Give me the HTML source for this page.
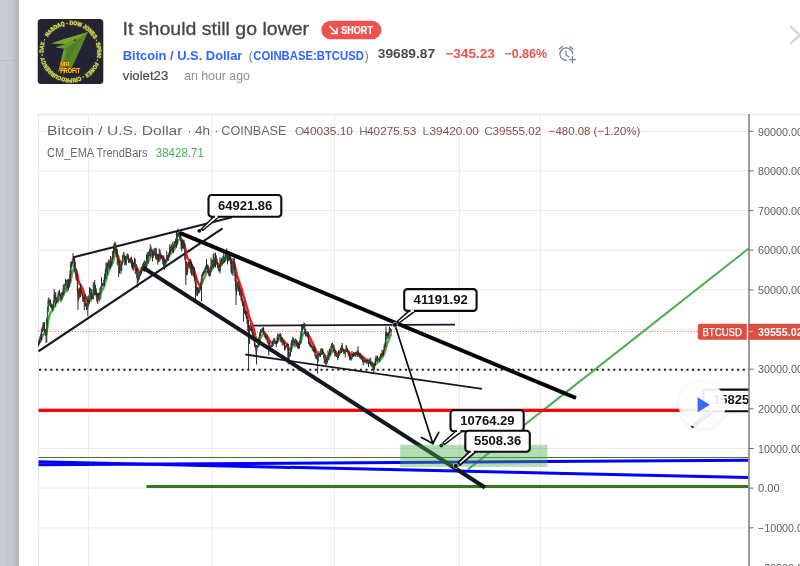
<!DOCTYPE html>
<html>
<head>
<meta charset="utf-8">
<title>It should still go lower</title>
<style>
  html, body { margin: 0; padding: 0; }
  body {
    width: 800px; height: 566px; overflow: hidden; background: #ffffff;
    font-family: "Liberation Sans", sans-serif;
  }
  #stage { position: absolute; left: -6px; top: -6px; width: 812px; height: 578px; overflow: hidden; filter: blur(0.32px); background: #ffffff; }
  svg { position: absolute; left: 6px; top: 6px; overflow: visible; will-change: transform; transform: translateZ(0); opacity: 0.999; }
  svg text { font-family: "Liberation Sans", sans-serif; }
</style>
</head>
<body>
<div id="stage">
<svg width="800" height="566" viewBox="0 0 800 566">
  <defs>
    <linearGradient id="edge" x1="0" y1="0" x2="1" y2="0">
      <stop offset="0" stop-color="#c9cbd0"/>
      <stop offset="0.55" stop-color="#c8cacf"/>
      <stop offset="0.75" stop-color="#c1c3c8"/>
      <stop offset="0.9" stop-color="#b4b6bb"/>
      <stop offset="1" stop-color="#a8aaaf"/>
    </linearGradient>
    <clipPath id="plot"><rect x="38" y="114" width="710.5" height="458"/></clipPath>
    <filter id="glow" x="-10%" y="-10%" width="120%" height="120%"><feGaussianBlur stdDeviation="0.9"/></filter>
    <filter id="soft" x="-30%" y="-30%" width="160%" height="160%"><feGaussianBlur stdDeviation="2.2"/></filter>
  </defs>

  <!-- page -->
  <rect x="-6" y="-6" width="812" height="578" fill="#ffffff"/>

  <!-- dimmed backdrop strip on the left -->
  <rect x="-6" y="-6" width="6.5" height="578" fill="#c9cbd0"/>
  <rect x="0" y="-6" width="18.9" height="578" fill="url(#edge)"/>
  <rect x="-6" y="60.5" width="20" height="512" fill="#c6c9d2" opacity="0.35"/>
  <line x1="-6" y1="60.5" x2="18" y2="60.5" stroke="#b9bdcb" stroke-width="1"/>
  <line x1="7.2" y1="60.5" x2="7.2" y2="572" stroke="#bfc3cd" stroke-width="1.2"/>
  <rect x="14" y="0" width="5" height="566" fill="url(#edge)" opacity="0.0"/>

  <!-- avatar -->
  <g id="avatar">
    <rect x="37.7" y="19.1" width="65.6" height="65" rx="3.5" fill="#222433"/>
    <path id="ringp" d="M47.76 36.89 A27.0 27.0 0 0 1 93.04 66.31 A27.0 27.0 0 0 1 47.76 36.89" fill="none"/>
        <text font-size="5.7" font-weight="bold" fill="#dcdc50" opacity="0.45" filter="url(#glow)"><textPath href="#ringp" textLength="164.6" lengthAdjust="spacingAndGlyphs">NASDAQ - DOW JONES - SP500 - FOREX - CRIPROCURRENCY - DAX -</textPath></text>
    <text font-size="5.7" font-weight="bold" fill="#dede58" stroke="#d4d44c" stroke-width="0.35"><textPath href="#ringp" textLength="164.6" lengthAdjust="spacingAndGlyphs">NASDAQ - DOW JONES - SP500 - FOREX - CRIPROCURRENCY - DAX -</textPath></text>
    <polygon points="88.1,31.9 64.5,38.9 51.2,43.4 65.8,44 55.6,47.2 63.9,48.4 58.2,72 62.6,68 63.5,75 66.5,66 69,70.5 72.2,66.9" fill="#5a8829"/>
    <polygon points="88.1,31.9 64.5,38.9 51.2,43.4 65.8,44 78,38" fill="#76a433"/>
    <polygon points="88.1,31.9 66,44 55.6,47.2 63.9,48.4 76,42.5" fill="#68982e"/>
    <polygon points="80,38.5 70,46 63,66 66.5,66" fill="#4f7c27" opacity="0.8"/>
    <polygon points="63.9,48.4 58.2,72 62.6,68 66,50" fill="#73a234" opacity="0.75"/>
    <circle cx="75" cy="40.2" r="1" fill="#27331f"/>
    <g font-weight="bold" fill="#f3d51f" stroke="#c5220f" stroke-width="0.7" paint-order="stroke">
      <text x="60.2" y="66.4" font-size="5.4" textLength="9.6" lengthAdjust="spacingAndGlyphs">MR</text>
      <text x="60.2" y="72.7" font-size="6.8" textLength="19.8" lengthAdjust="spacingAndGlyphs">PROFIT</text>
    </g>
  </g>

  <!-- header text -->
  <text x="122.6" y="35.3" font-size="17.6" fill="#45474f" stroke="#45474f" stroke-width="0.3" textLength="186.5" lengthAdjust="spacingAndGlyphs">It should still go lower</text>

  <!-- SHORT badge -->
  <rect x="321.3" y="20.7" width="60" height="18.6" rx="9.3" fill="#ef5350"/>
  <g stroke="#ffffff" stroke-width="1.5" fill="none" stroke-linecap="square">
    <path d="M330 26.6 L336.6 33.2"/>
    <path d="M331.8 33.6 L337 33.6 L337 28.4"/>
  </g>
  <text x="341.3" y="34" font-size="10.8" font-weight="bold" fill="#ffffff" stroke="#ffffff" stroke-width="0.2" textLength="31.6" lengthAdjust="spacingAndGlyphs">SHORT</text>

  <!-- symbol row -->
  <g font-size="12.2" font-weight="bold">
    <text x="122.8" y="59.5" fill="#2f66ff" textLength="119.6" lengthAdjust="spacingAndGlyphs">Bitcoin / U.S. Dollar</text>
    <text x="248.6" y="59.5" fill="#7c7f88" font-weight="normal" font-size="13">(</text>
    <text x="253.3" y="59.5" fill="#2f66ff" textLength="110.6" lengthAdjust="spacingAndGlyphs">COINBASE:BTCUSD</text>
    <text x="364.6" y="59.5" fill="#7c7f88" font-weight="normal" font-size="13">)</text>
    <text x="377.8" y="58" fill="#474a54" textLength="57.3" lengthAdjust="spacingAndGlyphs">39689.87</text>
    <text x="445.3" y="58" fill="#ef5350" textLength="49.6" lengthAdjust="spacingAndGlyphs">−345.23</text>
    <text x="504.3" y="58" fill="#ef5350" textLength="43" lengthAdjust="spacingAndGlyphs">−0.86%</text>
  </g>

  <!-- alarm icon -->
  <g stroke="#6f8198" stroke-width="1.25" fill="none" stroke-linecap="round">
    <path d="M566.6 60.4 A6.3 6.3 0 1 1 572.5 53.6"/>
    <path d="M559.2 49 L562.6 46.6"/>
    <path d="M569.8 46.6 L573 49"/>
    <path d="M566 51 L566 55 L568.8 56.8"/>
    <path d="M569.4 59.6 L575.4 59.6 M572.4 56.6 L572.4 62.6"/>
  </g>

  <!-- author row -->
  <text x="122.8" y="80.3" font-size="13" fill="#4a4c55" stroke="#4a4c55" stroke-width="0.2" textLength="45.5" lengthAdjust="spacingAndGlyphs">violet23</text>
  <text x="184" y="80.3" font-size="13" fill="#8e9099" textLength="66" lengthAdjust="spacingAndGlyphs">an hour ago</text>

  <!-- close X (cut off) -->
  <g stroke="#cbd4da" stroke-width="1.9" fill="none" stroke-linecap="round">
    <path d="M791 27 L809 43 M791 43 L809 27"/>
  </g>

  <!-- chart frame -->
  <path d="M38.5 572 L38.5 114.5 L806 114.5" fill="none" stroke="#e6e8f1" stroke-width="1.3"/>

  <g stroke="#ebebed" stroke-width="1"><line x1="38.5" y1="131.3" x2="748.5" y2="131.3"/><line x1="38.5" y1="170.9" x2="748.5" y2="170.9"/><line x1="38.5" y1="210.6" x2="748.5" y2="210.6"/><line x1="38.5" y1="250.2" x2="748.5" y2="250.2"/><line x1="38.5" y1="289.9" x2="748.5" y2="289.9"/><line x1="38.5" y1="329.5" x2="748.5" y2="329.5"/><line x1="38.5" y1="369.2" x2="748.5" y2="369.2"/><line x1="38.5" y1="408.8" x2="748.5" y2="408.8"/><line x1="38.5" y1="448.5" x2="748.5" y2="448.5"/><line x1="38.5" y1="488.1" x2="748.5" y2="488.1"/><line x1="38.5" y1="527.8" x2="748.5" y2="527.8"/><line x1="38.5" y1="567.4" x2="748.5" y2="567.4"/><line x1="88.5" y1="114.5" x2="88.5" y2="572"/><line x1="211.8" y1="114.5" x2="211.8" y2="572"/><line x1="334.6" y1="114.5" x2="334.6" y2="572"/><line x1="459.4" y1="114.5" x2="459.4" y2="572"/><line x1="540.3" y1="114.5" x2="540.3" y2="572"/></g>

  <!-- legend -->
  <g font-size="13.4" fill="#68696d">
    <text x="47" y="134.8" textLength="135.5" lengthAdjust="spacingAndGlyphs">Bitcoin / U.S. Dollar</text>
    <text x="187.3" y="135">·</text>
    <text x="195" y="135" textLength="15" lengthAdjust="spacingAndGlyphs">4h</text>
    <text x="214.2" y="135">·</text>
    <text x="221.3" y="135" textLength="65" lengthAdjust="spacingAndGlyphs">COINBASE</text>
  </g>
  <g font-size="11.8">
    <text x="295" y="135" fill="#70737b">O</text>
    <text x="303.3" y="135" fill="#8e4a4a" textLength="49.7" lengthAdjust="spacingAndGlyphs">40035.10</text>
    <text x="359.3" y="135" fill="#70737b">H</text>
    <text x="367" y="135" fill="#8e4a4a" textLength="49.3" lengthAdjust="spacingAndGlyphs">40275.53</text>
    <text x="422.5" y="135" fill="#70737b">L</text>
    <text x="429.5" y="135" fill="#8e4a4a" textLength="49.3" lengthAdjust="spacingAndGlyphs">39420.00</text>
    <text x="484.2" y="135" fill="#70737b">C</text>
    <text x="492.5" y="135" fill="#8e4a4a" textLength="48.8" lengthAdjust="spacingAndGlyphs">39555.02</text>
    <text x="548.8" y="135" fill="#8e4a4a" textLength="91.5" lengthAdjust="spacingAndGlyphs">−480.08 (−1.20%)</text>
  </g>
  <text x="47" y="156.8" font-size="12" fill="#68696d" textLength="100.5" lengthAdjust="spacingAndGlyphs">CM_EMA TrendBars</text>
  <text x="155.8" y="156.8" font-size="12" fill="#4caf50" textLength="48" lengthAdjust="spacingAndGlyphs">38428.71</text>

  <!-- plot -->
  <g clip-path="url(#plot)">
    <!-- last price dotted line -->
    <line x1="38.5" y1="331.5" x2="698" y2="331.5" stroke="#e8584e" stroke-width="1.15" stroke-dasharray="1 1.8"/>

    <!-- 30000 dotted -->
    <line x1="39" y1="369.8" x2="746" y2="369.8" stroke="#1c1c1c" stroke-width="1.9" stroke-dasharray="2 3.63"/>


    <!-- green projection -->
    <line x1="468" y1="469.4" x2="749" y2="248.2" stroke="#4caf50" stroke-width="2"/>

    <!-- thin dark green -->
    <line x1="38.5" y1="457.5" x2="748.5" y2="457.5" stroke="#3f7d22" stroke-width="1"/>

    <!-- blue lines -->
    <line x1="38.5" y1="464.8" x2="748.5" y2="460.3" stroke="#0000ff" stroke-width="3"/>
    <line x1="38.5" y1="461.8" x2="748.5" y2="477.6" stroke="#0000ff" stroke-width="3"/>

    <!-- red horizontal -->
    <line x1="38.5" y1="410.4" x2="748.5" y2="410.4" stroke="#ff0000" stroke-width="3.2"/>

    <!-- dark green thick -->
    <line x1="146.5" y1="486.6" x2="748.5" y2="486.6" stroke="#38761d" stroke-width="3"/>

    <!-- thin channel lines -->
    <g stroke="#161a26" stroke-width="1.8" fill="none">
      <line x1="73.5" y1="257.3" x2="232" y2="217.3" stroke-width="2.15"/>
      <line x1="38.5" y1="351.3" x2="222.6" y2="228.4" stroke-width="2.15"/>
      <line x1="252.5" y1="325.6" x2="455" y2="324.7"/>
      <line x1="245.3" y1="354.5" x2="482" y2="388.9"/>
    </g>

    <polyline points="38.5,343.2 39.2,342.7 40.0,341.8 40.8,340.5 41.5,338.9 42.2,337.1 43.0,335.0 43.8,333.8 44.5,333.1 45.2,333.0 46.0,333.2 46.8,330.8 47.5,326.3 48.2,321.2 49.0,317.3 49.8,314.6 50.5,312.7 51.2,311.7 52.0,311.4 52.8,310.1 53.5,308.0 54.2,305.7 55.0,304.1 55.8,303.2 56.5,302.8 57.2,302.4 58.0,301.4 58.8,300.0 59.5,298.9 60.2,298.6 61.0,298.9 61.8,298.4 62.5,297.2 63.2,295.6 64.0,294.0 64.8,292.2 65.5,290.5 66.2,288.8 67.0,287.7 67.8,286.9 68.5,286.4 69.2,285.6 70.0,283.4 70.8,280.0 71.5,276.6 72.2,273.5 73.0,270.6 73.8,268.5 74.5,268.0 75.2,268.6 76.0,269.9" fill="none" stroke="#4caf50" stroke-width="2.4" stroke-linejoin="round" stroke-linecap="round"/><polyline points="76.0,269.9 76.8,271.7 77.5,275.3 78.2,280.0 79.0,282.7 79.8,283.9 80.5,284.8 81.2,286.0 82.0,287.5 82.8,289.2 83.5,291.3 84.2,293.6 85.0,295.7 85.8,297.7 86.5,299.5 87.2,300.5 88.0,301.0 88.8,300.7 89.5,299.6" fill="none" stroke="#ff1a1a" stroke-width="2.4" stroke-linejoin="round" stroke-linecap="round"/><polyline points="89.5,299.6 90.2,298.4 91.0,297.8 91.8,297.6 92.5,297.3 93.2,295.5 94.0,293.2 94.8,292.3 95.5,292.3 96.2,293.1 97.0,294.2" fill="none" stroke="#4caf50" stroke-width="2.4" stroke-linejoin="round" stroke-linecap="round"/><polyline points="97.0,294.2 97.8,294.8 98.5,295.0 99.2,294.8 100.0,294.1" fill="none" stroke="#ff1a1a" stroke-width="2.4" stroke-linejoin="round" stroke-linecap="round"/><polyline points="100.0,294.1 100.8,292.9 101.5,291.5 102.2,290.2 103.0,288.9 103.8,287.4 104.5,285.2 105.2,282.6 106.0,280.0 106.8,277.4 107.5,274.8 108.2,272.6 109.0,270.6 109.8,268.9 110.5,267.3 111.2,265.9 112.0,264.5 112.8,262.3 113.5,259.8 114.2,257.1 115.0,255.0 115.8,254.0 116.5,253.8 117.2,254.3 118.0,255.9" fill="none" stroke="#4caf50" stroke-width="2.4" stroke-linejoin="round" stroke-linecap="round"/><polyline points="118.0,255.9 118.8,258.8 119.5,260.8 120.2,262.0 121.0,262.6 121.8,262.3 122.5,261.4" fill="none" stroke="#ff1a1a" stroke-width="2.4" stroke-linejoin="round" stroke-linecap="round"/><polyline points="122.5,261.4 123.2,260.3 124.0,259.9 124.8,260.2 125.5,260.1 126.2,259.4 127.0,258.4 127.8,258.3 128.5,258.9 129.2,259.6" fill="none" stroke="#4caf50" stroke-width="2.4" stroke-linejoin="round" stroke-linecap="round"/><polyline points="129.2,259.6 130.0,260.0 130.8,260.1 131.5,260.6 132.2,261.7 133.0,263.1 133.8,263.9 134.5,264.3 135.2,264.7 136.0,265.7 136.8,267.2 137.5,269.0 138.2,270.7 139.0,272.1 139.8,272.5 140.5,272.1 141.2,271.4" fill="none" stroke="#ff1a1a" stroke-width="2.4" stroke-linejoin="round" stroke-linecap="round"/><polyline points="141.2,271.4 142.0,270.4 142.8,269.4 143.5,268.6 144.2,268.2 145.0,267.9 145.8,267.1 146.5,265.7 147.2,264.1 148.0,262.4 148.8,260.8 149.5,259.2 150.2,257.8 151.0,256.6 151.8,255.5 152.5,254.7 153.2,254.1 154.0,253.8 154.8,253.6 155.5,253.8 156.2,254.4" fill="none" stroke="#4caf50" stroke-width="2.4" stroke-linejoin="round" stroke-linecap="round"/><polyline points="156.2,254.4 157.0,255.3 157.8,256.0 158.5,256.3 159.2,256.1 160.0,256.0 160.8,256.2 161.5,256.5 162.2,257.0 163.0,257.9 163.8,259.0 164.5,259.8 165.2,260.1 166.0,260.1 166.8,259.8 167.5,259.1" fill="none" stroke="#ff1a1a" stroke-width="2.4" stroke-linejoin="round" stroke-linecap="round"/><polyline points="167.5,259.1 168.2,258.0 169.0,256.7 169.8,255.1 170.5,253.7 171.2,252.7 172.0,251.9 172.8,251.3 173.5,250.5 174.2,249.4 175.0,248.0 175.8,246.3 176.5,244.6 177.2,242.8 178.0,241.0 178.8,239.7 179.5,239.1 180.2,239.1 181.0,239.6 181.8,240.3" fill="none" stroke="#4caf50" stroke-width="2.4" stroke-linejoin="round" stroke-linecap="round"/><polyline points="181.8,240.3 182.5,241.3 183.2,242.5 184.0,243.8 184.8,246.0 185.5,249.2 186.2,254.0 187.0,257.0 187.8,258.5 188.5,259.6 189.2,260.8 190.0,262.0 190.8,263.3 191.5,264.6 192.2,266.0 193.0,267.6 193.8,269.4 194.5,271.5 195.2,273.9 196.0,276.5 196.8,279.0 197.5,281.1 198.2,283.0 199.0,284.6 199.8,285.6 200.5,285.6 201.2,284.7 202.0,283.1" fill="none" stroke="#ff1a1a" stroke-width="2.4" stroke-linejoin="round" stroke-linecap="round"/><polyline points="202.0,283.1 202.8,281.3 203.5,279.6 204.2,277.9 205.0,276.2 205.8,274.6 206.5,273.0 207.2,271.9 208.0,271.5 208.8,271.7 209.5,271.8 210.2,271.3 211.0,270.4 211.8,269.4 212.5,268.2 213.2,267.0 214.0,265.7 214.8,264.5 215.5,263.3 216.2,262.6 217.0,262.8 217.8,263.7" fill="none" stroke="#4caf50" stroke-width="2.4" stroke-linejoin="round" stroke-linecap="round"/><polyline points="217.8,263.7 218.5,265.1 219.2,266.0 220.0,266.1 220.8,265.5 221.5,264.7" fill="none" stroke="#ff1a1a" stroke-width="2.4" stroke-linejoin="round" stroke-linecap="round"/><polyline points="221.5,264.7 222.2,263.8 223.0,262.9 223.8,262.0 224.5,261.1 225.2,260.2 226.0,259.4 226.8,258.6 227.5,257.9 228.2,257.6 229.0,257.5 229.8,257.5 230.5,258.6" fill="none" stroke="#4caf50" stroke-width="2.4" stroke-linejoin="round" stroke-linecap="round"/><polyline points="230.5,258.6 231.2,260.8 232.0,262.6 232.8,263.2 233.5,263.1 234.2,263.9 235.0,266.5 235.8,270.2 236.5,273.4 237.2,276.0 238.0,278.4 238.8,280.6 239.5,282.8 240.2,284.9 241.0,287.2 241.8,289.6 242.5,292.1 243.2,294.7 244.0,297.3 244.8,299.8 245.5,302.5 246.2,305.1 247.0,307.8 247.8,310.6 248.5,313.7 249.2,316.9 250.0,319.4 250.8,320.9 251.5,322.4 252.2,324.2 253.0,326.6 253.8,329.4 254.5,332.3 255.2,335.2 256.0,338.2 256.8,340.2 257.5,341.4 258.2,341.8 259.0,341.0 259.8,339.6" fill="none" stroke="#ff1a1a" stroke-width="2.4" stroke-linejoin="round" stroke-linecap="round"/><polyline points="259.8,339.6 260.5,338.2 261.2,336.8 262.0,335.3 262.8,334.1 263.5,333.5 264.2,333.4 265.0,333.7 265.8,334.4" fill="none" stroke="#4caf50" stroke-width="2.4" stroke-linejoin="round" stroke-linecap="round"/><polyline points="265.8,334.4 266.5,335.3 267.2,336.5 268.0,337.7 268.8,339.1 269.5,340.3 270.2,341.4 271.0,342.4 271.8,343.1 272.5,343.2 273.2,343.0 274.0,342.5" fill="none" stroke="#ff1a1a" stroke-width="2.4" stroke-linejoin="round" stroke-linecap="round"/><polyline points="274.0,342.5 274.8,342.4 275.5,342.5 276.2,342.5 277.0,342.1 277.8,341.2 278.5,340.1 279.2,338.9 280.0,338.4 280.8,338.4 281.5,338.7 282.2,339.2" fill="none" stroke="#4caf50" stroke-width="2.4" stroke-linejoin="round" stroke-linecap="round"/><polyline points="282.2,339.2 283.0,339.9 283.8,340.7 284.5,341.7 285.2,342.6 286.0,343.3 286.8,343.7 287.5,344.5 288.2,347.1 289.0,348.9 289.8,349.7 290.5,349.7 291.2,348.8 292.0,347.2" fill="none" stroke="#ff1a1a" stroke-width="2.4" stroke-linejoin="round" stroke-linecap="round"/><polyline points="292.0,347.2 292.8,345.4 293.5,344.7 294.2,344.3 295.0,343.7 295.8,343.1 296.5,343.3 297.2,344.0" fill="none" stroke="#4caf50" stroke-width="2.4" stroke-linejoin="round" stroke-linecap="round"/><polyline points="297.2,344.0 298.0,344.7 298.8,344.7 299.5,344.0 300.2,342.6" fill="none" stroke="#ff1a1a" stroke-width="2.4" stroke-linejoin="round" stroke-linecap="round"/><polyline points="300.2,342.6 301.0,340.4 301.8,337.8 302.5,335.5 303.2,333.7 304.0,332.6 304.8,332.2 305.5,332.3 306.2,332.6 307.0,333.1" fill="none" stroke="#4caf50" stroke-width="2.4" stroke-linejoin="round" stroke-linecap="round"/><polyline points="307.0,333.1 307.8,333.9 308.5,334.9 309.2,336.3 310.0,337.8 310.8,339.3 311.5,340.9 312.2,342.4 313.0,343.9 313.8,345.4 314.5,347.0 315.2,348.7 316.0,350.6 316.8,352.4 317.5,353.5 318.2,354.1 319.0,354.3 319.8,354.2 320.5,353.8" fill="none" stroke="#ff1a1a" stroke-width="2.4" stroke-linejoin="round" stroke-linecap="round"/><polyline points="320.5,353.8 321.2,353.1 322.0,352.6 322.8,352.7 323.5,353.5" fill="none" stroke="#4caf50" stroke-width="2.4" stroke-linejoin="round" stroke-linecap="round"/><polyline points="323.5,353.5 324.2,354.7 325.0,356.2 325.8,357.7 326.5,358.4 327.2,358.5 328.0,358.1 328.8,357.4" fill="none" stroke="#ff1a1a" stroke-width="2.4" stroke-linejoin="round" stroke-linecap="round"/><polyline points="328.8,357.4 329.5,356.4 330.2,355.1 331.0,353.7 331.8,352.0 332.5,350.9 333.2,350.5 334.0,350.5 334.8,350.8 335.5,351.5" fill="none" stroke="#4caf50" stroke-width="2.4" stroke-linejoin="round" stroke-linecap="round"/><polyline points="335.5,351.5 336.2,352.3 337.0,353.2 337.8,353.5 338.5,353.4 339.2,353.0" fill="none" stroke="#ff1a1a" stroke-width="2.4" stroke-linejoin="round" stroke-linecap="round"/><polyline points="339.2,353.0 340.0,352.5 340.8,351.8 341.5,351.1 342.2,350.4 343.0,350.2 343.8,350.4 344.5,350.8" fill="none" stroke="#4caf50" stroke-width="2.4" stroke-linejoin="round" stroke-linecap="round"/><polyline points="344.5,350.8 345.2,351.0 346.0,351.1 346.8,351.0 347.5,351.0 348.2,351.4 349.0,352.1 349.8,353.1 350.5,354.1 351.2,354.7 352.0,354.9 352.8,354.9 353.5,354.7 354.2,354.5" fill="none" stroke="#ff1a1a" stroke-width="2.4" stroke-linejoin="round" stroke-linecap="round"/><polyline points="354.2,354.5 355.0,354.2 355.8,353.8 356.5,353.5 357.2,353.2 358.0,353.4 358.8,353.7" fill="none" stroke="#4caf50" stroke-width="2.4" stroke-linejoin="round" stroke-linecap="round"/><polyline points="358.8,353.7 359.5,354.3 360.2,354.9 361.0,355.5 361.8,356.1 362.5,356.7 363.2,357.4 364.0,358.0 364.8,358.5 365.5,359.1 366.2,359.6 367.0,360.1 367.8,360.5 368.5,360.9 369.2,361.3 370.0,361.7 370.8,362.2 371.5,362.8 372.2,363.6 373.0,364.5 373.8,365.0 374.5,364.9 375.2,364.4 376.0,363.7" fill="none" stroke="#ff1a1a" stroke-width="2.4" stroke-linejoin="round" stroke-linecap="round"/><polyline points="376.0,363.7 376.8,363.1 377.5,362.5 378.2,361.8 379.0,361.2 379.8,360.5 380.5,359.7 381.2,358.8 382.0,357.8 382.8,356.6 383.5,355.3 384.2,353.7 385.0,351.8 385.8,348.7 386.5,345.9 387.2,343.9 388.0,341.9 388.8,339.9 389.5,337.7 390.2,336.0 391.0,334.9" fill="none" stroke="#4caf50" stroke-width="2.4" stroke-linejoin="round" stroke-linecap="round"/><g stroke="#1e2023" stroke-width="1.0" opacity="0.95"><line x1="38.50" y1="341.3" x2="38.50" y2="346.6"/><line x1="39.25" y1="339.1" x2="39.25" y2="344.9"/><line x1="40.00" y1="336.2" x2="40.00" y2="342.7"/><line x1="40.75" y1="334.1" x2="40.75" y2="340.5"/><line x1="41.50" y1="329.0" x2="41.50" y2="340.0"/><line x1="42.25" y1="327.0" x2="42.25" y2="332.1"/><line x1="43.00" y1="322.4" x2="43.00" y2="329.4"/><line x1="43.75" y1="322.1" x2="43.75" y2="331.5"/><line x1="44.50" y1="322.1" x2="44.50" y2="332.2"/><line x1="45.25" y1="328.9" x2="45.25" y2="336.0"/><line x1="46.00" y1="331.6" x2="46.00" y2="343.1"/><line x1="46.75" y1="317.9" x2="46.75" y2="342.3"/><line x1="47.50" y1="306.9" x2="47.50" y2="325.5"/><line x1="48.25" y1="298.1" x2="48.25" y2="312.0"/><line x1="49.00" y1="297.5" x2="49.00" y2="302.8"/><line x1="49.75" y1="299.9" x2="49.75" y2="305.9"/><line x1="50.50" y1="299.5" x2="50.50" y2="307.3"/><line x1="51.25" y1="303.4" x2="51.25" y2="308.0"/><line x1="52.00" y1="304.0" x2="52.00" y2="310.0"/><line x1="52.75" y1="304.8" x2="52.75" y2="310.5"/><line x1="53.50" y1="300.4" x2="53.50" y2="307.7"/><line x1="54.25" y1="289.2" x2="54.25" y2="302.9"/><line x1="55.00" y1="292.4" x2="55.00" y2="300.4"/><line x1="55.75" y1="292.0" x2="55.75" y2="307.3"/><line x1="56.50" y1="297.3" x2="56.50" y2="302.9"/><line x1="57.25" y1="297.5" x2="57.25" y2="301.8"/><line x1="58.00" y1="292.9" x2="58.00" y2="301.5"/><line x1="58.75" y1="290.8" x2="58.75" y2="297.6"/><line x1="59.50" y1="289.8" x2="59.50" y2="296.3"/><line x1="60.25" y1="293.5" x2="60.25" y2="298.5"/><line x1="61.00" y1="293.7" x2="61.00" y2="302.4"/><line x1="61.75" y1="292.0" x2="61.75" y2="300.8"/><line x1="62.50" y1="291.9" x2="62.50" y2="296.5"/><line x1="63.25" y1="285.1" x2="63.25" y2="295.2"/><line x1="64.00" y1="283.9" x2="64.00" y2="293.5"/><line x1="64.75" y1="283.8" x2="64.75" y2="289.6"/><line x1="65.50" y1="278.9" x2="65.50" y2="286.5"/><line x1="66.25" y1="280.0" x2="66.25" y2="285.7"/><line x1="67.00" y1="279.9" x2="67.00" y2="292.3"/><line x1="67.75" y1="278.9" x2="67.75" y2="288.3"/><line x1="68.50" y1="279.2" x2="68.50" y2="290.5"/><line x1="69.25" y1="278.9" x2="69.25" y2="287.4"/><line x1="70.00" y1="270.3" x2="70.00" y2="283.1"/><line x1="70.75" y1="261.5" x2="70.75" y2="276.6"/><line x1="71.50" y1="261.7" x2="71.50" y2="267.1"/><line x1="72.25" y1="258.5" x2="72.25" y2="264.6"/><line x1="73.00" y1="253.2" x2="73.00" y2="267.3"/><line x1="73.75" y1="256.2" x2="73.75" y2="263.1"/><line x1="74.50" y1="257.7" x2="74.50" y2="271.5"/><line x1="75.25" y1="261.7" x2="75.25" y2="273.9"/><line x1="76.00" y1="268.4" x2="76.00" y2="279.7"/><line x1="76.75" y1="274.4" x2="76.75" y2="281.1"/><line x1="77.50" y1="274.6" x2="77.50" y2="293.2"/><line x1="78.25" y1="289.3" x2="78.25" y2="301.5"/><line x1="79.00" y1="288.1" x2="79.00" y2="299.4"/><line x1="79.75" y1="287.3" x2="79.75" y2="297.3"/><line x1="80.50" y1="283.7" x2="80.50" y2="297.1"/><line x1="81.25" y1="288.4" x2="81.25" y2="293.7"/><line x1="82.00" y1="290.4" x2="82.00" y2="295.6"/><line x1="82.75" y1="293.0" x2="82.75" y2="301.8"/><line x1="83.50" y1="296.8" x2="83.50" y2="300.8"/><line x1="84.25" y1="296.1" x2="84.25" y2="310.1"/><line x1="85.00" y1="294.1" x2="85.00" y2="307.2"/><line x1="85.75" y1="301.1" x2="85.75" y2="306.0"/><line x1="86.50" y1="303.0" x2="86.50" y2="310.0"/><line x1="87.25" y1="296.2" x2="87.25" y2="308.9"/><line x1="88.00" y1="301.0" x2="88.00" y2="307.4"/><line x1="88.75" y1="295.4" x2="88.75" y2="305.4"/><line x1="89.50" y1="287.1" x2="89.50" y2="303.5"/><line x1="90.25" y1="287.9" x2="90.25" y2="295.2"/><line x1="91.00" y1="289.3" x2="91.00" y2="301.8"/><line x1="91.75" y1="289.3" x2="91.75" y2="299.4"/><line x1="92.50" y1="293.3" x2="92.50" y2="299.1"/><line x1="93.25" y1="282.5" x2="93.25" y2="299.5"/><line x1="94.00" y1="282.2" x2="94.00" y2="291.9"/><line x1="94.75" y1="280.1" x2="94.75" y2="295.5"/><line x1="95.50" y1="284.8" x2="95.50" y2="294.9"/><line x1="96.25" y1="288.7" x2="96.25" y2="296.6"/><line x1="97.00" y1="292.8" x2="97.00" y2="302.2"/><line x1="97.75" y1="295.1" x2="97.75" y2="304.0"/><line x1="98.50" y1="293.0" x2="98.50" y2="299.6"/><line x1="99.25" y1="292.7" x2="99.25" y2="301.5"/><line x1="100.00" y1="287.8" x2="100.00" y2="294.6"/><line x1="100.75" y1="286.2" x2="100.75" y2="299.5"/><line x1="101.50" y1="277.0" x2="101.50" y2="289.4"/><line x1="102.25" y1="283.2" x2="102.25" y2="286.6"/><line x1="103.00" y1="283.0" x2="103.00" y2="285.8"/><line x1="103.75" y1="279.7" x2="103.75" y2="285.5"/><line x1="104.50" y1="274.1" x2="104.50" y2="285.8"/><line x1="105.25" y1="269.5" x2="105.25" y2="279.1"/><line x1="106.00" y1="262.3" x2="106.00" y2="279.4"/><line x1="106.75" y1="263.3" x2="106.75" y2="271.6"/><line x1="107.50" y1="263.3" x2="107.50" y2="274.9"/><line x1="108.25" y1="260.9" x2="108.25" y2="269.4"/><line x1="109.00" y1="259.0" x2="109.00" y2="267.4"/><line x1="109.75" y1="260.9" x2="109.75" y2="268.8"/><line x1="110.50" y1="260.8" x2="110.50" y2="265.8"/><line x1="111.25" y1="260.4" x2="111.25" y2="266.2"/><line x1="112.00" y1="256.7" x2="112.00" y2="264.4"/><line x1="112.75" y1="251.0" x2="112.75" y2="259.6"/><line x1="113.50" y1="246.8" x2="113.50" y2="257.3"/><line x1="114.25" y1="242.6" x2="114.25" y2="253.8"/><line x1="115.00" y1="241.6" x2="115.00" y2="248.3"/><line x1="115.75" y1="243.3" x2="115.75" y2="253.8"/><line x1="116.50" y1="248.5" x2="116.50" y2="257.0"/><line x1="117.25" y1="248.7" x2="117.25" y2="265.4"/><line x1="118.00" y1="257.5" x2="118.00" y2="264.9"/><line x1="118.75" y1="259.2" x2="118.75" y2="272.7"/><line x1="119.50" y1="261.3" x2="119.50" y2="273.5"/><line x1="120.25" y1="264.0" x2="120.25" y2="271.0"/><line x1="121.00" y1="262.6" x2="121.00" y2="274.1"/><line x1="121.75" y1="261.7" x2="121.75" y2="271.3"/><line x1="122.50" y1="255.4" x2="122.50" y2="264.8"/><line x1="123.25" y1="253.1" x2="123.25" y2="257.9"/><line x1="124.00" y1="251.9" x2="124.00" y2="259.6"/><line x1="124.75" y1="254.7" x2="124.75" y2="265.2"/><line x1="125.50" y1="256.1" x2="125.50" y2="264.7"/><line x1="126.25" y1="256.5" x2="126.25" y2="265.5"/><line x1="127.00" y1="253.9" x2="127.00" y2="258.4"/><line x1="127.75" y1="253.4" x2="127.75" y2="258.0"/><line x1="128.50" y1="254.9" x2="128.50" y2="262.9"/><line x1="129.25" y1="259.3" x2="129.25" y2="262.4"/><line x1="130.00" y1="258.9" x2="130.00" y2="263.5"/><line x1="130.75" y1="257.4" x2="130.75" y2="262.8"/><line x1="131.50" y1="256.8" x2="131.50" y2="266.4"/><line x1="132.25" y1="259.6" x2="132.25" y2="269.5"/><line x1="133.00" y1="263.3" x2="133.00" y2="270.0"/><line x1="133.75" y1="263.1" x2="133.75" y2="270.7"/><line x1="134.50" y1="257.8" x2="134.50" y2="267.5"/><line x1="135.25" y1="258.7" x2="135.25" y2="274.0"/><line x1="136.00" y1="264.0" x2="136.00" y2="274.1"/><line x1="136.75" y1="267.5" x2="136.75" y2="278.1"/><line x1="137.50" y1="269.6" x2="137.50" y2="279.5"/><line x1="138.25" y1="274.6" x2="138.25" y2="282.4"/><line x1="139.00" y1="271.7" x2="139.00" y2="280.0"/><line x1="139.75" y1="273.0" x2="139.75" y2="277.2"/><line x1="140.50" y1="270.3" x2="140.50" y2="275.6"/><line x1="141.25" y1="266.6" x2="141.25" y2="274.4"/><line x1="142.00" y1="266.4" x2="142.00" y2="270.6"/><line x1="142.75" y1="263.6" x2="142.75" y2="270.3"/><line x1="143.50" y1="262.4" x2="143.50" y2="271.0"/><line x1="144.25" y1="260.3" x2="144.25" y2="272.2"/><line x1="145.00" y1="261.4" x2="145.00" y2="269.8"/><line x1="145.75" y1="261.0" x2="145.75" y2="270.4"/><line x1="146.50" y1="254.5" x2="146.50" y2="266.4"/><line x1="147.25" y1="252.5" x2="147.25" y2="262.4"/><line x1="148.00" y1="252.0" x2="148.00" y2="263.5"/><line x1="148.75" y1="251.3" x2="148.75" y2="258.4"/><line x1="149.50" y1="249.2" x2="149.50" y2="255.9"/><line x1="150.25" y1="244.2" x2="150.25" y2="256.3"/><line x1="151.00" y1="246.2" x2="151.00" y2="256.5"/><line x1="151.75" y1="248.5" x2="151.75" y2="251.9"/><line x1="152.50" y1="249.8" x2="152.50" y2="261.4"/><line x1="153.25" y1="251.4" x2="153.25" y2="258.1"/><line x1="154.00" y1="248.3" x2="154.00" y2="255.3"/><line x1="154.75" y1="248.6" x2="154.75" y2="255.7"/><line x1="155.50" y1="248.4" x2="155.50" y2="258.6"/><line x1="156.25" y1="247.7" x2="156.25" y2="259.7"/><line x1="157.00" y1="254.1" x2="157.00" y2="259.7"/><line x1="157.75" y1="255.0" x2="157.75" y2="264.7"/><line x1="158.50" y1="253.7" x2="158.50" y2="262.3"/><line x1="159.25" y1="248.5" x2="159.25" y2="261.7"/><line x1="160.00" y1="249.5" x2="160.00" y2="260.9"/><line x1="160.75" y1="252.4" x2="160.75" y2="258.8"/><line x1="161.50" y1="255.1" x2="161.50" y2="258.9"/><line x1="162.25" y1="255.0" x2="162.25" y2="260.4"/><line x1="163.00" y1="257.6" x2="163.00" y2="264.5"/><line x1="163.75" y1="255.5" x2="163.75" y2="266.8"/><line x1="164.50" y1="260.1" x2="164.50" y2="269.6"/><line x1="165.25" y1="261.2" x2="165.25" y2="265.1"/><line x1="166.00" y1="259.8" x2="166.00" y2="264.3"/><line x1="166.75" y1="251.0" x2="166.75" y2="262.4"/><line x1="167.50" y1="255.0" x2="167.50" y2="260.0"/><line x1="168.25" y1="255.0" x2="168.25" y2="260.9"/><line x1="169.00" y1="252.3" x2="169.00" y2="257.7"/><line x1="169.75" y1="244.3" x2="169.75" y2="254.6"/><line x1="170.50" y1="246.4" x2="170.50" y2="253.7"/><line x1="171.25" y1="244.2" x2="171.25" y2="250.9"/><line x1="172.00" y1="245.7" x2="172.00" y2="250.5"/><line x1="172.75" y1="242.1" x2="172.75" y2="252.4"/><line x1="173.50" y1="244.5" x2="173.50" y2="252.8"/><line x1="174.25" y1="241.0" x2="174.25" y2="248.1"/><line x1="175.00" y1="241.0" x2="175.00" y2="244.6"/><line x1="175.75" y1="238.5" x2="175.75" y2="247.1"/><line x1="176.50" y1="231.8" x2="176.50" y2="247.5"/><line x1="177.25" y1="233.2" x2="177.25" y2="244.9"/><line x1="178.00" y1="228.5" x2="178.00" y2="237.3"/><line x1="178.75" y1="232.3" x2="178.75" y2="236.6"/><line x1="179.50" y1="231.8" x2="179.50" y2="237.6"/><line x1="180.25" y1="233.7" x2="180.25" y2="239.8"/><line x1="181.00" y1="233.8" x2="181.00" y2="249.3"/><line x1="181.75" y1="240.4" x2="181.75" y2="251.4"/><line x1="182.50" y1="239.5" x2="182.50" y2="248.4"/><line x1="183.25" y1="240.2" x2="183.25" y2="249.1"/><line x1="184.00" y1="239.7" x2="184.00" y2="249.0"/><line x1="184.75" y1="243.2" x2="184.75" y2="259.6"/><line x1="185.50" y1="251.6" x2="185.50" y2="264.7"/><line x1="186.25" y1="261.1" x2="186.25" y2="275.7"/><line x1="187.00" y1="266.6" x2="187.00" y2="275.0"/><line x1="187.75" y1="262.1" x2="187.75" y2="271.9"/><line x1="188.50" y1="262.3" x2="188.50" y2="266.4"/><line x1="189.25" y1="261.4" x2="189.25" y2="267.9"/><line x1="190.00" y1="259.6" x2="190.00" y2="269.4"/><line x1="190.75" y1="258.8" x2="190.75" y2="272.9"/><line x1="191.50" y1="261.6" x2="191.50" y2="275.5"/><line x1="192.25" y1="263.8" x2="192.25" y2="273.2"/><line x1="193.00" y1="266.0" x2="193.00" y2="276.2"/><line x1="193.75" y1="268.6" x2="193.75" y2="276.9"/><line x1="194.50" y1="267.3" x2="194.50" y2="281.1"/><line x1="195.25" y1="277.8" x2="195.25" y2="283.7"/><line x1="196.00" y1="276.2" x2="196.00" y2="289.1"/><line x1="196.75" y1="286.9" x2="196.75" y2="295.6"/><line x1="197.50" y1="287.1" x2="197.50" y2="296.1"/><line x1="198.25" y1="288.0" x2="198.25" y2="293.5"/><line x1="199.00" y1="286.3" x2="199.00" y2="293.7"/><line x1="199.75" y1="286.1" x2="199.75" y2="292.2"/><line x1="200.50" y1="282.6" x2="200.50" y2="290.0"/><line x1="201.25" y1="278.9" x2="201.25" y2="287.6"/><line x1="202.00" y1="273.8" x2="202.00" y2="282.6"/><line x1="202.75" y1="272.2" x2="202.75" y2="276.2"/><line x1="203.50" y1="270.8" x2="203.50" y2="275.4"/><line x1="204.25" y1="269.7" x2="204.25" y2="274.1"/><line x1="205.00" y1="267.5" x2="205.00" y2="272.8"/><line x1="205.75" y1="265.6" x2="205.75" y2="272.1"/><line x1="206.50" y1="259.1" x2="206.50" y2="269.4"/><line x1="207.25" y1="264.2" x2="207.25" y2="272.7"/><line x1="208.00" y1="264.8" x2="208.00" y2="271.5"/><line x1="208.75" y1="267.2" x2="208.75" y2="275.8"/><line x1="209.50" y1="270.2" x2="209.50" y2="276.5"/><line x1="210.25" y1="267.0" x2="210.25" y2="276.4"/><line x1="211.00" y1="257.5" x2="211.00" y2="272.5"/><line x1="211.75" y1="260.2" x2="211.75" y2="269.1"/><line x1="212.50" y1="259.7" x2="212.50" y2="266.5"/><line x1="213.25" y1="254.0" x2="213.25" y2="268.6"/><line x1="214.00" y1="252.8" x2="214.00" y2="266.3"/><line x1="214.75" y1="257.5" x2="214.75" y2="266.6"/><line x1="215.50" y1="252.6" x2="215.50" y2="267.6"/><line x1="216.25" y1="255.3" x2="216.25" y2="260.8"/><line x1="217.00" y1="258.3" x2="217.00" y2="265.3"/><line x1="217.75" y1="262.7" x2="217.75" y2="268.3"/><line x1="218.50" y1="266.2" x2="218.50" y2="270.8"/><line x1="219.25" y1="265.9" x2="219.25" y2="271.8"/><line x1="220.00" y1="257.2" x2="220.00" y2="273.5"/><line x1="220.75" y1="260.0" x2="220.75" y2="266.2"/><line x1="221.50" y1="258.2" x2="221.50" y2="264.4"/><line x1="222.25" y1="258.4" x2="222.25" y2="264.5"/><line x1="223.00" y1="255.6" x2="223.00" y2="263.3"/><line x1="223.75" y1="252.8" x2="223.75" y2="263.2"/><line x1="224.50" y1="257.2" x2="224.50" y2="262.3"/><line x1="225.25" y1="252.3" x2="225.25" y2="260.7"/><line x1="226.00" y1="254.4" x2="226.00" y2="258.5"/><line x1="226.75" y1="248.3" x2="226.75" y2="257.3"/><line x1="227.50" y1="251.4" x2="227.50" y2="264.5"/><line x1="228.25" y1="255.2" x2="228.25" y2="261.4"/><line x1="229.00" y1="255.5" x2="229.00" y2="260.2"/><line x1="229.75" y1="255.1" x2="229.75" y2="260.4"/><line x1="230.50" y1="255.1" x2="230.50" y2="264.2"/><line x1="231.25" y1="259.9" x2="231.25" y2="273.4"/><line x1="232.00" y1="270.4" x2="232.00" y2="274.6"/><line x1="232.75" y1="263.6" x2="232.75" y2="272.9"/><line x1="233.50" y1="258.7" x2="233.50" y2="269.7"/><line x1="234.25" y1="257.7" x2="234.25" y2="269.9"/><line x1="235.00" y1="262.5" x2="235.00" y2="281.3"/><line x1="235.75" y1="272.2" x2="235.75" y2="290.3"/><line x1="236.50" y1="283.8" x2="236.50" y2="295.3"/><line x1="237.25" y1="281.8" x2="237.25" y2="286.4"/><line x1="238.00" y1="281.2" x2="238.00" y2="291.4"/><line x1="238.75" y1="282.5" x2="238.75" y2="291.5"/><line x1="239.50" y1="286.0" x2="239.50" y2="295.5"/><line x1="240.25" y1="288.3" x2="240.25" y2="293.2"/><line x1="241.00" y1="289.5" x2="241.00" y2="300.3"/><line x1="241.75" y1="293.8" x2="241.75" y2="302.3"/><line x1="242.50" y1="298.6" x2="242.50" y2="306.1"/><line x1="243.25" y1="301.8" x2="243.25" y2="306.3"/><line x1="244.00" y1="300.5" x2="244.00" y2="313.4"/><line x1="244.75" y1="305.7" x2="244.75" y2="313.8"/><line x1="245.50" y1="310.0" x2="245.50" y2="315.5"/><line x1="246.25" y1="310.7" x2="246.25" y2="318.6"/><line x1="247.00" y1="312.5" x2="247.00" y2="323.8"/><line x1="247.75" y1="316.5" x2="247.75" y2="331.0"/><line x1="248.50" y1="320.0" x2="248.50" y2="330.1"/><line x1="249.25" y1="326.0" x2="249.25" y2="331.7"/><line x1="250.00" y1="328.9" x2="250.00" y2="330.6"/><line x1="250.75" y1="323.2" x2="250.75" y2="330.9"/><line x1="251.50" y1="326.1" x2="251.50" y2="330.9"/><line x1="252.25" y1="328.8" x2="252.25" y2="334.4"/><line x1="253.00" y1="331.4" x2="253.00" y2="337.5"/><line x1="253.75" y1="332.7" x2="253.75" y2="341.0"/><line x1="254.50" y1="338.0" x2="254.50" y2="346.8"/><line x1="255.25" y1="343.3" x2="255.25" y2="347.6"/><line x1="256.00" y1="345.5" x2="256.00" y2="354.7"/><line x1="256.75" y1="345.3" x2="256.75" y2="351.5"/><line x1="257.50" y1="346.1" x2="257.50" y2="347.5"/><line x1="258.25" y1="341.9" x2="258.25" y2="347.3"/><line x1="259.00" y1="336.9" x2="259.00" y2="346.4"/><line x1="259.75" y1="332.2" x2="259.75" y2="342.4"/><line x1="260.50" y1="329.5" x2="260.50" y2="335.9"/><line x1="261.25" y1="330.8" x2="261.25" y2="332.3"/><line x1="262.00" y1="327.8" x2="262.00" y2="332.9"/><line x1="262.75" y1="327.7" x2="262.75" y2="331.2"/><line x1="263.50" y1="327.1" x2="263.50" y2="333.7"/><line x1="264.25" y1="330.8" x2="264.25" y2="337.5"/><line x1="265.00" y1="332.2" x2="265.00" y2="337.2"/><line x1="265.75" y1="334.8" x2="265.75" y2="339.4"/><line x1="266.50" y1="335.6" x2="266.50" y2="339.8"/><line x1="267.25" y1="335.2" x2="267.25" y2="342.3"/><line x1="268.00" y1="339.4" x2="268.00" y2="344.2"/><line x1="268.75" y1="341.1" x2="268.75" y2="345.1"/><line x1="269.50" y1="342.0" x2="269.50" y2="349.3"/><line x1="270.25" y1="345.7" x2="270.25" y2="351.4"/><line x1="271.00" y1="344.3" x2="271.00" y2="347.6"/><line x1="271.75" y1="344.8" x2="271.75" y2="346.7"/><line x1="272.50" y1="340.8" x2="272.50" y2="347.1"/><line x1="273.25" y1="339.1" x2="273.25" y2="346.0"/><line x1="274.00" y1="337.8" x2="274.00" y2="342.5"/><line x1="274.75" y1="338.3" x2="274.75" y2="344.1"/><line x1="275.50" y1="340.7" x2="275.50" y2="344.3"/><line x1="276.25" y1="341.2" x2="276.25" y2="346.8"/><line x1="277.00" y1="336.4" x2="277.00" y2="344.0"/><line x1="277.75" y1="333.3" x2="277.75" y2="342.5"/><line x1="278.50" y1="334.9" x2="278.50" y2="339.5"/><line x1="279.25" y1="333.8" x2="279.25" y2="337.6"/><line x1="280.00" y1="333.6" x2="280.00" y2="337.0"/><line x1="280.75" y1="333.2" x2="280.75" y2="342.4"/><line x1="281.50" y1="337.6" x2="281.50" y2="342.4"/><line x1="282.25" y1="336.9" x2="282.25" y2="345.7"/><line x1="283.00" y1="340.8" x2="283.00" y2="343.7"/><line x1="283.75" y1="340.2" x2="283.75" y2="345.5"/><line x1="284.50" y1="342.7" x2="284.50" y2="350.5"/><line x1="285.25" y1="345.1" x2="285.25" y2="349.6"/><line x1="286.00" y1="345.0" x2="286.00" y2="348.0"/><line x1="286.75" y1="344.5" x2="286.75" y2="347.2"/><line x1="287.50" y1="343.8" x2="287.50" y2="349.2"/><line x1="288.25" y1="343.9" x2="288.25" y2="358.9"/><line x1="289.00" y1="352.4" x2="289.00" y2="360.9"/><line x1="289.75" y1="351.6" x2="289.75" y2="356.9"/><line x1="290.50" y1="348.5" x2="290.50" y2="356.2"/><line x1="291.25" y1="341.3" x2="291.25" y2="352.0"/><line x1="292.00" y1="339.5" x2="292.00" y2="346.2"/><line x1="292.75" y1="337.0" x2="292.75" y2="344.9"/><line x1="293.50" y1="337.9" x2="293.50" y2="342.8"/><line x1="294.25" y1="340.6" x2="294.25" y2="344.3"/><line x1="295.00" y1="338.7" x2="295.00" y2="347.4"/><line x1="295.75" y1="338.7" x2="295.75" y2="341.7"/><line x1="296.50" y1="339.9" x2="296.50" y2="346.4"/><line x1="297.25" y1="340.5" x2="297.25" y2="347.4"/><line x1="298.00" y1="343.3" x2="298.00" y2="349.0"/><line x1="298.75" y1="342.1" x2="298.75" y2="348.9"/><line x1="299.50" y1="340.6" x2="299.50" y2="348.2"/><line x1="300.25" y1="335.8" x2="300.25" y2="344.4"/><line x1="301.00" y1="331.4" x2="301.00" y2="343.2"/><line x1="301.75" y1="324.5" x2="301.75" y2="335.9"/><line x1="302.50" y1="324.2" x2="302.50" y2="331.4"/><line x1="303.25" y1="323.9" x2="303.25" y2="329.2"/><line x1="304.00" y1="322.4" x2="304.00" y2="328.7"/><line x1="304.75" y1="323.0" x2="304.75" y2="334.3"/><line x1="305.50" y1="329.2" x2="305.50" y2="336.3"/><line x1="306.25" y1="332.0" x2="306.25" y2="336.1"/><line x1="307.00" y1="331.4" x2="307.00" y2="337.4"/><line x1="307.75" y1="334.7" x2="307.75" y2="337.6"/><line x1="308.50" y1="332.2" x2="308.50" y2="343.8"/><line x1="309.25" y1="339.4" x2="309.25" y2="345.6"/><line x1="310.00" y1="341.8" x2="310.00" y2="346.3"/><line x1="310.75" y1="343.1" x2="310.75" y2="347.7"/><line x1="311.50" y1="344.5" x2="311.50" y2="347.6"/><line x1="312.25" y1="345.6" x2="312.25" y2="351.2"/><line x1="313.00" y1="346.4" x2="313.00" y2="350.0"/><line x1="313.75" y1="348.6" x2="313.75" y2="352.4"/><line x1="314.50" y1="346.2" x2="314.50" y2="352.7"/><line x1="315.25" y1="349.1" x2="315.25" y2="356.6"/><line x1="316.00" y1="355.0" x2="316.00" y2="359.0"/><line x1="316.75" y1="354.4" x2="316.75" y2="359.5"/><line x1="317.50" y1="355.1" x2="317.50" y2="360.2"/><line x1="318.25" y1="353.7" x2="318.25" y2="361.7"/><line x1="319.00" y1="351.0" x2="319.00" y2="357.3"/><line x1="319.75" y1="353.0" x2="319.75" y2="355.8"/><line x1="320.50" y1="349.4" x2="320.50" y2="356.9"/><line x1="321.25" y1="348.0" x2="321.25" y2="355.2"/><line x1="322.00" y1="348.9" x2="322.00" y2="352.2"/><line x1="322.75" y1="348.4" x2="322.75" y2="354.4"/><line x1="323.50" y1="352.2" x2="323.50" y2="357.9"/><line x1="324.25" y1="353.7" x2="324.25" y2="363.6"/><line x1="325.00" y1="355.5" x2="325.00" y2="363.8"/><line x1="325.75" y1="360.4" x2="325.75" y2="365.6"/><line x1="326.50" y1="358.6" x2="326.50" y2="364.3"/><line x1="327.25" y1="355.0" x2="327.25" y2="363.5"/><line x1="328.00" y1="350.3" x2="328.00" y2="360.7"/><line x1="328.75" y1="352.3" x2="328.75" y2="359.9"/><line x1="329.50" y1="348.6" x2="329.50" y2="355.8"/><line x1="330.25" y1="350.1" x2="330.25" y2="355.1"/><line x1="331.00" y1="345.8" x2="331.00" y2="352.5"/><line x1="331.75" y1="343.2" x2="331.75" y2="347.9"/><line x1="332.50" y1="342.7" x2="332.50" y2="348.0"/><line x1="333.25" y1="344.4" x2="333.25" y2="351.0"/><line x1="334.00" y1="345.2" x2="334.00" y2="352.8"/><line x1="334.75" y1="347.9" x2="334.75" y2="356.4"/><line x1="335.50" y1="350.1" x2="335.50" y2="355.5"/><line x1="336.25" y1="353.7" x2="336.25" y2="357.0"/><line x1="337.00" y1="353.8" x2="337.00" y2="356.8"/><line x1="337.75" y1="353.3" x2="337.75" y2="360.1"/><line x1="338.50" y1="350.3" x2="338.50" y2="358.1"/><line x1="339.25" y1="350.7" x2="339.25" y2="355.7"/><line x1="340.00" y1="349.7" x2="340.00" y2="354.1"/><line x1="340.75" y1="347.6" x2="340.75" y2="352.6"/><line x1="341.50" y1="345.1" x2="341.50" y2="352.9"/><line x1="342.25" y1="342.9" x2="342.25" y2="350.6"/><line x1="343.00" y1="348.0" x2="343.00" y2="351.6"/><line x1="343.75" y1="349.4" x2="343.75" y2="353.9"/><line x1="344.50" y1="350.3" x2="344.50" y2="353.7"/><line x1="345.25" y1="349.3" x2="345.25" y2="357.5"/><line x1="346.00" y1="345.5" x2="346.00" y2="352.0"/><line x1="346.75" y1="345.3" x2="346.75" y2="351.3"/><line x1="347.50" y1="348.3" x2="347.50" y2="352.1"/><line x1="348.25" y1="349.9" x2="348.25" y2="356.4"/><line x1="349.00" y1="351.8" x2="349.00" y2="355.4"/><line x1="349.75" y1="353.2" x2="349.75" y2="360.3"/><line x1="350.50" y1="355.7" x2="350.50" y2="359.8"/><line x1="351.25" y1="357.1" x2="351.25" y2="360.7"/><line x1="352.00" y1="350.9" x2="352.00" y2="358.8"/><line x1="352.75" y1="353.9" x2="352.75" y2="357.0"/><line x1="353.50" y1="352.2" x2="353.50" y2="357.0"/><line x1="354.25" y1="352.8" x2="354.25" y2="356.3"/><line x1="355.00" y1="352.1" x2="355.00" y2="354.8"/><line x1="355.75" y1="352.2" x2="355.75" y2="356.9"/><line x1="356.50" y1="352.0" x2="356.50" y2="354.6"/><line x1="357.25" y1="350.1" x2="357.25" y2="357.1"/><line x1="358.00" y1="346.2" x2="358.00" y2="355.4"/><line x1="358.75" y1="352.8" x2="358.75" y2="356.7"/><line x1="359.50" y1="353.4" x2="359.50" y2="357.6"/><line x1="360.25" y1="352.7" x2="360.25" y2="358.3"/><line x1="361.00" y1="356.3" x2="361.00" y2="359.7"/><line x1="361.75" y1="355.4" x2="361.75" y2="359.8"/><line x1="362.50" y1="356.2" x2="362.50" y2="362.1"/><line x1="363.25" y1="357.5" x2="363.25" y2="365.4"/><line x1="364.00" y1="358.9" x2="364.00" y2="363.6"/><line x1="364.75" y1="359.9" x2="364.75" y2="362.3"/><line x1="365.50" y1="360.0" x2="365.50" y2="362.2"/><line x1="366.25" y1="360.5" x2="366.25" y2="363.4"/><line x1="367.00" y1="359.7" x2="367.00" y2="364.4"/><line x1="367.75" y1="359.9" x2="367.75" y2="363.2"/><line x1="368.50" y1="360.7" x2="368.50" y2="367.2"/><line x1="369.25" y1="358.5" x2="369.25" y2="363.8"/><line x1="370.00" y1="361.3" x2="370.00" y2="364.1"/><line x1="370.75" y1="357.5" x2="370.75" y2="365.6"/><line x1="371.50" y1="363.2" x2="371.50" y2="366.3"/><line x1="372.25" y1="362.2" x2="372.25" y2="367.4"/><line x1="373.00" y1="362.8" x2="373.00" y2="370.4"/><line x1="373.75" y1="366.0" x2="373.75" y2="373.1"/><line x1="374.50" y1="363.4" x2="374.50" y2="369.6"/><line x1="375.25" y1="357.6" x2="375.25" y2="365.8"/><line x1="376.00" y1="355.4" x2="376.00" y2="361.9"/><line x1="376.75" y1="356.6" x2="376.75" y2="361.3"/><line x1="377.50" y1="355.7" x2="377.50" y2="361.7"/><line x1="378.25" y1="357.9" x2="378.25" y2="360.2"/><line x1="379.00" y1="357.9" x2="379.00" y2="360.3"/><line x1="379.75" y1="356.5" x2="379.75" y2="362.3"/><line x1="380.50" y1="353.7" x2="380.50" y2="359.0"/><line x1="381.25" y1="353.2" x2="381.25" y2="356.8"/><line x1="382.00" y1="349.8" x2="382.00" y2="356.8"/><line x1="382.75" y1="350.9" x2="382.75" y2="356.5"/><line x1="383.50" y1="349.7" x2="383.50" y2="355.3"/><line x1="384.25" y1="344.0" x2="384.25" y2="351.0"/><line x1="385.00" y1="341.9" x2="385.00" y2="347.2"/><line x1="385.75" y1="331.3" x2="385.75" y2="347.4"/><line x1="386.50" y1="332.5" x2="386.50" y2="336.2"/><line x1="387.25" y1="332.3" x2="387.25" y2="339.0"/><line x1="388.00" y1="334.3" x2="388.00" y2="336.6"/><line x1="388.75" y1="332.2" x2="388.75" y2="337.7"/><line x1="389.50" y1="326.7" x2="389.50" y2="333.5"/><line x1="390.25" y1="328.1" x2="390.25" y2="330.2"/><line x1="391.00" y1="328.9" x2="391.00" y2="333.9"/><line x1="248.60" y1="330.0" x2="248.60" y2="370.0"/><line x1="256.50" y1="345.0" x2="256.50" y2="364.5"/><line x1="78.00" y1="290.0" x2="78.00" y2="310.0"/><line x1="87.80" y1="303.0" x2="87.80" y2="316.0"/><line x1="185.80" y1="262.0" x2="185.80" y2="285.0"/><line x1="195.50" y1="282.0" x2="195.50" y2="299.0"/><line x1="201.50" y1="285.0" x2="201.50" y2="301.0"/><line x1="236.00" y1="280.0" x2="236.00" y2="305.0"/><line x1="243.60" y1="303.0" x2="243.60" y2="321.5"/><line x1="249.60" y1="325.0" x2="249.60" y2="344.0"/><line x1="317.60" y1="356.0" x2="317.60" y2="373.5"/><line x1="288.30" y1="350.0" x2="288.30" y2="364.5"/><line x1="268.80" y1="343.0" x2="268.80" y2="355.5"/><line x1="137.30" y1="272.0" x2="137.30" y2="287.5"/><line x1="118.60" y1="262.0" x2="118.60" y2="277.0"/><line x1="386.00" y1="326.5" x2="386.00" y2="340.0"/><line x1="110.50" y1="256.0" x2="110.50" y2="268.0"/><line x1="233.00" y1="258.0" x2="233.00" y2="276.0"/></g><g stroke-width="1.35"><line x1="38.50" y1="342.2" x2="38.50" y2="343.4" stroke="#7a1919"/><line x1="39.25" y1="340.0" x2="39.25" y2="342.4" stroke="#402020"/><line x1="40.00" y1="337.6" x2="40.00" y2="340.0" stroke="#7a1919"/><line x1="40.75" y1="336.9" x2="40.75" y2="338.1" stroke="#402020"/><line x1="41.50" y1="330.4" x2="41.50" y2="337.3" stroke="#402020"/><line x1="42.25" y1="328.1" x2="42.25" y2="330.4" stroke="#17562f"/><line x1="43.00" y1="325.2" x2="43.00" y2="328.1" stroke="#7a1919"/><line x1="43.75" y1="325.2" x2="43.75" y2="329.0" stroke="#851f1f"/><line x1="44.50" y1="329.0" x2="44.50" y2="330.3" stroke="#661616"/><line x1="45.25" y1="330.3" x2="45.25" y2="333.2" stroke="#851f1f"/><line x1="46.00" y1="333.2" x2="46.00" y2="335.1" stroke="#1f3f2a"/><line x1="46.75" y1="319.7" x2="46.75" y2="335.1" stroke="#1b6436"/><line x1="47.50" y1="309.7" x2="47.50" y2="319.7" stroke="#206b3b"/><line x1="48.25" y1="300.9" x2="48.25" y2="309.7" stroke="#206b3b"/><line x1="49.00" y1="300.8" x2="49.00" y2="302.0" stroke="#402020"/><line x1="49.75" y1="301.6" x2="49.75" y2="302.8" stroke="#1f3f2a"/><line x1="50.50" y1="302.5" x2="50.50" y2="304.8" stroke="#851f1f"/><line x1="51.25" y1="304.8" x2="51.25" y2="306.0" stroke="#7a1919"/><line x1="52.00" y1="306.0" x2="52.00" y2="308.5" stroke="#1f3f2a"/><line x1="52.75" y1="306.4" x2="52.75" y2="308.5" stroke="#1f3f2a"/><line x1="53.50" y1="301.6" x2="53.50" y2="306.4" stroke="#17562f"/><line x1="54.25" y1="294.3" x2="54.25" y2="301.6" stroke="#17562f"/><line x1="55.00" y1="294.3" x2="55.00" y2="297.6" stroke="#7a1919"/><line x1="55.75" y1="297.6" x2="55.75" y2="299.3" stroke="#402020"/><line x1="56.50" y1="299.3" x2="56.50" y2="300.5" stroke="#661616"/><line x1="57.25" y1="298.9" x2="57.25" y2="300.5" stroke="#1b6436"/><line x1="58.00" y1="295.7" x2="58.00" y2="298.9" stroke="#1b6436"/><line x1="58.75" y1="292.1" x2="58.75" y2="295.7" stroke="#206b3b"/><line x1="59.50" y1="292.1" x2="59.50" y2="295.2" stroke="#402020"/><line x1="60.25" y1="295.2" x2="60.25" y2="297.3" stroke="#851f1f"/><line x1="61.00" y1="297.3" x2="61.00" y2="299.9" stroke="#851f1f"/><line x1="61.75" y1="294.6" x2="61.75" y2="299.9" stroke="#1b6436"/><line x1="62.50" y1="293.4" x2="62.50" y2="294.6" stroke="#661616"/><line x1="63.25" y1="289.5" x2="63.25" y2="293.4" stroke="#17562f"/><line x1="64.00" y1="288.5" x2="64.00" y2="289.7" stroke="#1f3f2a"/><line x1="64.75" y1="284.7" x2="64.75" y2="288.7" stroke="#206b3b"/><line x1="65.50" y1="281.9" x2="65.50" y2="284.7" stroke="#206b3b"/><line x1="66.25" y1="281.9" x2="66.25" y2="284.3" stroke="#661616"/><line x1="67.00" y1="282.3" x2="67.00" y2="284.3" stroke="#1b6436"/><line x1="67.75" y1="282.3" x2="67.75" y2="283.7" stroke="#1b6436"/><line x1="68.50" y1="283.7" x2="68.50" y2="286.4" stroke="#661616"/><line x1="69.25" y1="282.1" x2="69.25" y2="286.4" stroke="#1f3f2a"/><line x1="70.00" y1="274.3" x2="70.00" y2="282.1" stroke="#661616"/><line x1="70.75" y1="264.5" x2="70.75" y2="274.3" stroke="#1f3f2a"/><line x1="71.50" y1="263.4" x2="71.50" y2="264.6" stroke="#7a1919"/><line x1="72.25" y1="262.4" x2="72.25" y2="263.6" stroke="#17562f"/><line x1="73.00" y1="258.9" x2="73.00" y2="262.4" stroke="#206b3b"/><line x1="73.75" y1="258.2" x2="73.75" y2="259.4" stroke="#1f3f2a"/><line x1="74.50" y1="258.7" x2="74.50" y2="267.5" stroke="#402020"/><line x1="75.25" y1="267.5" x2="75.25" y2="272.8" stroke="#1b6436"/><line x1="76.00" y1="272.8" x2="76.00" y2="276.7" stroke="#661616"/><line x1="76.75" y1="276.4" x2="76.75" y2="277.6" stroke="#851f1f"/><line x1="77.50" y1="277.2" x2="77.50" y2="290.8" stroke="#7a1919"/><line x1="78.25" y1="290.8" x2="78.25" y2="297.2" stroke="#7a1919"/><line x1="79.00" y1="294.7" x2="79.00" y2="297.2" stroke="#17562f"/><line x1="79.75" y1="289.5" x2="79.75" y2="294.7" stroke="#17562f"/><line x1="80.50" y1="288.9" x2="80.50" y2="290.1" stroke="#661616"/><line x1="81.25" y1="289.5" x2="81.25" y2="292.6" stroke="#7a1919"/><line x1="82.00" y1="292.6" x2="82.00" y2="294.2" stroke="#7a1919"/><line x1="82.75" y1="294.2" x2="82.75" y2="298.0" stroke="#661616"/><line x1="83.50" y1="297.7" x2="83.50" y2="298.9" stroke="#7a1919"/><line x1="84.25" y1="298.5" x2="84.25" y2="302.1" stroke="#661616"/><line x1="85.00" y1="302.1" x2="85.00" y2="305.1" stroke="#851f1f"/><line x1="85.75" y1="304.4" x2="85.75" y2="305.6" stroke="#1f3f2a"/><line x1="86.50" y1="305.0" x2="86.50" y2="307.5" stroke="#7a1919"/><line x1="87.25" y1="303.0" x2="87.25" y2="307.5" stroke="#1b6436"/><line x1="88.00" y1="301.9" x2="88.00" y2="303.1" stroke="#17562f"/><line x1="88.75" y1="300.7" x2="88.75" y2="301.9" stroke="#1f3f2a"/><line x1="89.50" y1="293.9" x2="89.50" y2="300.7" stroke="#1b6436"/><line x1="90.25" y1="292.5" x2="90.25" y2="293.9" stroke="#206b3b"/><line x1="91.00" y1="292.5" x2="91.00" y2="297.2" stroke="#17562f"/><line x1="91.75" y1="294.8" x2="91.75" y2="297.2" stroke="#1f3f2a"/><line x1="92.50" y1="294.8" x2="92.50" y2="298.0" stroke="#661616"/><line x1="93.25" y1="290.5" x2="93.25" y2="298.0" stroke="#206b3b"/><line x1="94.00" y1="284.8" x2="94.00" y2="290.5" stroke="#17562f"/><line x1="94.75" y1="284.8" x2="94.75" y2="287.5" stroke="#1b6436"/><line x1="95.50" y1="287.5" x2="95.50" y2="293.6" stroke="#402020"/><line x1="96.25" y1="293.4" x2="96.25" y2="294.6" stroke="#402020"/><line x1="97.00" y1="294.4" x2="97.00" y2="300.8" stroke="#661616"/><line x1="97.75" y1="298.8" x2="97.75" y2="300.8" stroke="#206b3b"/><line x1="98.50" y1="297.9" x2="98.50" y2="299.1" stroke="#206b3b"/><line x1="99.25" y1="293.7" x2="99.25" y2="298.1" stroke="#206b3b"/><line x1="100.00" y1="291.5" x2="100.00" y2="293.7" stroke="#206b3b"/><line x1="100.75" y1="287.8" x2="100.75" y2="291.5" stroke="#206b3b"/><line x1="101.50" y1="285.0" x2="101.50" y2="287.8" stroke="#1b6436"/><line x1="102.25" y1="284.0" x2="102.25" y2="285.2" stroke="#17562f"/><line x1="103.00" y1="283.4" x2="103.00" y2="284.6" stroke="#402020"/><line x1="103.75" y1="281.7" x2="103.75" y2="283.8" stroke="#1b6436"/><line x1="104.50" y1="276.7" x2="104.50" y2="281.7" stroke="#1f3f2a"/><line x1="105.25" y1="273.3" x2="105.25" y2="276.7" stroke="#17562f"/><line x1="106.00" y1="267.4" x2="106.00" y2="273.3" stroke="#17562f"/><line x1="106.75" y1="267.4" x2="106.75" y2="268.8" stroke="#7a1919"/><line x1="107.50" y1="266.2" x2="107.50" y2="268.8" stroke="#17562f"/><line x1="108.25" y1="261.8" x2="108.25" y2="266.2" stroke="#1f3f2a"/><line x1="109.00" y1="261.8" x2="109.00" y2="264.2" stroke="#661616"/><line x1="109.75" y1="261.7" x2="109.75" y2="264.2" stroke="#1b6436"/><line x1="110.50" y1="261.2" x2="110.50" y2="262.4" stroke="#7a1919"/><line x1="111.25" y1="261.4" x2="111.25" y2="262.6" stroke="#402020"/><line x1="112.00" y1="258.6" x2="112.00" y2="262.1" stroke="#1b6436"/><line x1="112.75" y1="254.2" x2="112.75" y2="258.6" stroke="#851f1f"/><line x1="113.50" y1="250.4" x2="113.50" y2="254.2" stroke="#402020"/><line x1="114.25" y1="244.1" x2="114.25" y2="250.4" stroke="#1f3f2a"/><line x1="115.00" y1="244.1" x2="115.00" y2="246.0" stroke="#7a1919"/><line x1="115.75" y1="246.0" x2="115.75" y2="252.1" stroke="#1f3f2a"/><line x1="116.50" y1="250.7" x2="116.50" y2="252.1" stroke="#1f3f2a"/><line x1="117.25" y1="250.7" x2="117.25" y2="258.7" stroke="#7a1919"/><line x1="118.00" y1="258.7" x2="118.00" y2="262.4" stroke="#661616"/><line x1="118.75" y1="262.4" x2="118.75" y2="271.1" stroke="#206b3b"/><line x1="119.50" y1="267.5" x2="119.50" y2="271.1" stroke="#7a1919"/><line x1="120.25" y1="267.5" x2="120.25" y2="268.9" stroke="#402020"/><line x1="121.00" y1="264.3" x2="121.00" y2="268.9" stroke="#851f1f"/><line x1="121.75" y1="262.8" x2="121.75" y2="264.3" stroke="#206b3b"/><line x1="122.50" y1="256.4" x2="122.50" y2="262.8" stroke="#1b6436"/><line x1="123.25" y1="255.2" x2="123.25" y2="256.4" stroke="#7a1919"/><line x1="124.00" y1="255.2" x2="124.00" y2="256.4" stroke="#206b3b"/><line x1="124.75" y1="256.4" x2="124.75" y2="260.8" stroke="#402020"/><line x1="125.50" y1="260.6" x2="125.50" y2="261.8" stroke="#661616"/><line x1="126.25" y1="257.5" x2="126.25" y2="261.5" stroke="#17562f"/><line x1="127.00" y1="255.5" x2="127.00" y2="257.5" stroke="#17562f"/><line x1="127.75" y1="255.3" x2="127.75" y2="256.5" stroke="#851f1f"/><line x1="128.50" y1="256.4" x2="128.50" y2="260.5" stroke="#7a1919"/><line x1="129.25" y1="260.2" x2="129.25" y2="261.4" stroke="#402020"/><line x1="130.00" y1="260.8" x2="130.00" y2="262.0" stroke="#402020"/><line x1="130.75" y1="258.7" x2="130.75" y2="261.7" stroke="#1b6436"/><line x1="131.50" y1="258.7" x2="131.50" y2="261.7" stroke="#7a1919"/><line x1="132.25" y1="261.7" x2="132.25" y2="267.4" stroke="#402020"/><line x1="133.00" y1="266.9" x2="133.00" y2="268.1" stroke="#851f1f"/><line x1="133.75" y1="265.6" x2="133.75" y2="267.6" stroke="#17562f"/><line x1="134.50" y1="264.0" x2="134.50" y2="265.6" stroke="#1f3f2a"/><line x1="135.25" y1="264.0" x2="135.25" y2="268.3" stroke="#1b6436"/><line x1="136.00" y1="268.3" x2="136.00" y2="269.5" stroke="#402020"/><line x1="136.75" y1="269.4" x2="136.75" y2="271.1" stroke="#402020"/><line x1="137.50" y1="271.1" x2="137.50" y2="278.4" stroke="#1b6436"/><line x1="138.25" y1="278.2" x2="138.25" y2="279.4" stroke="#402020"/><line x1="139.00" y1="276.1" x2="139.00" y2="279.1" stroke="#7a1919"/><line x1="139.75" y1="274.6" x2="139.75" y2="276.1" stroke="#1f3f2a"/><line x1="140.50" y1="271.4" x2="140.50" y2="274.6" stroke="#17562f"/><line x1="141.25" y1="268.0" x2="141.25" y2="271.4" stroke="#851f1f"/><line x1="142.00" y1="267.8" x2="142.00" y2="269.0" stroke="#661616"/><line x1="142.75" y1="265.0" x2="142.75" y2="268.8" stroke="#206b3b"/><line x1="143.50" y1="263.7" x2="143.50" y2="265.0" stroke="#1b6436"/><line x1="144.25" y1="263.7" x2="144.25" y2="265.3" stroke="#7a1919"/><line x1="145.00" y1="265.3" x2="145.00" y2="267.9" stroke="#7a1919"/><line x1="145.75" y1="265.0" x2="145.75" y2="267.9" stroke="#17562f"/><line x1="146.50" y1="259.4" x2="146.50" y2="265.0" stroke="#206b3b"/><line x1="147.25" y1="255.7" x2="147.25" y2="259.4" stroke="#1f3f2a"/><line x1="148.00" y1="255.0" x2="148.00" y2="256.2" stroke="#402020"/><line x1="148.75" y1="252.1" x2="148.75" y2="255.4" stroke="#1b6436"/><line x1="149.50" y1="251.2" x2="149.50" y2="252.4" stroke="#1b6436"/><line x1="150.25" y1="251.4" x2="150.25" y2="254.6" stroke="#402020"/><line x1="151.00" y1="249.6" x2="151.00" y2="254.6" stroke="#206b3b"/><line x1="151.75" y1="249.6" x2="151.75" y2="250.9" stroke="#1f3f2a"/><line x1="152.50" y1="250.9" x2="152.50" y2="253.4" stroke="#851f1f"/><line x1="153.25" y1="252.6" x2="153.25" y2="253.8" stroke="#402020"/><line x1="154.00" y1="250.9" x2="154.00" y2="253.1" stroke="#1f3f2a"/><line x1="154.75" y1="250.2" x2="154.75" y2="251.4" stroke="#1b6436"/><line x1="155.50" y1="250.7" x2="155.50" y2="253.9" stroke="#17562f"/><line x1="156.25" y1="253.9" x2="156.25" y2="257.9" stroke="#7a1919"/><line x1="157.00" y1="257.4" x2="157.00" y2="258.6" stroke="#7a1919"/><line x1="157.75" y1="258.0" x2="157.75" y2="260.0" stroke="#7a1919"/><line x1="158.50" y1="255.1" x2="158.50" y2="260.0" stroke="#1f3f2a"/><line x1="159.25" y1="255.1" x2="159.25" y2="256.9" stroke="#1f3f2a"/><line x1="160.00" y1="254.2" x2="160.00" y2="256.9" stroke="#17562f"/><line x1="160.75" y1="254.2" x2="160.75" y2="257.1" stroke="#7a1919"/><line x1="161.50" y1="256.8" x2="161.50" y2="258.0" stroke="#7a1919"/><line x1="162.25" y1="257.7" x2="162.25" y2="259.1" stroke="#7a1919"/><line x1="163.00" y1="259.1" x2="163.00" y2="263.5" stroke="#1f3f2a"/><line x1="163.75" y1="263.5" x2="163.75" y2="265.6" stroke="#1f3f2a"/><line x1="164.50" y1="263.6" x2="164.50" y2="265.6" stroke="#1b6436"/><line x1="165.25" y1="262.6" x2="165.25" y2="263.8" stroke="#206b3b"/><line x1="166.00" y1="261.1" x2="166.00" y2="262.8" stroke="#17562f"/><line x1="166.75" y1="257.5" x2="166.75" y2="261.1" stroke="#851f1f"/><line x1="167.50" y1="257.4" x2="167.50" y2="258.6" stroke="#402020"/><line x1="168.25" y1="256.1" x2="168.25" y2="258.6" stroke="#1f3f2a"/><line x1="169.00" y1="253.2" x2="169.00" y2="256.1" stroke="#661616"/><line x1="169.75" y1="249.3" x2="169.75" y2="253.2" stroke="#661616"/><line x1="170.50" y1="247.9" x2="170.50" y2="249.3" stroke="#1b6436"/><line x1="171.25" y1="247.9" x2="171.25" y2="249.1" stroke="#206b3b"/><line x1="172.00" y1="247.0" x2="172.00" y2="249.0" stroke="#17562f"/><line x1="172.75" y1="247.0" x2="172.75" y2="250.4" stroke="#851f1f"/><line x1="173.50" y1="245.4" x2="173.50" y2="250.4" stroke="#1f3f2a"/><line x1="174.25" y1="243.0" x2="174.25" y2="245.4" stroke="#1b6436"/><line x1="175.00" y1="242.4" x2="175.00" y2="243.6" stroke="#851f1f"/><line x1="175.75" y1="239.5" x2="175.75" y2="243.0" stroke="#1f3f2a"/><line x1="176.50" y1="237.3" x2="176.50" y2="239.5" stroke="#17562f"/><line x1="177.25" y1="235.2" x2="177.25" y2="237.3" stroke="#17562f"/><line x1="178.00" y1="233.4" x2="178.00" y2="235.2" stroke="#1f3f2a"/><line x1="178.75" y1="233.4" x2="178.75" y2="235.7" stroke="#1f3f2a"/><line x1="179.50" y1="234.7" x2="179.50" y2="235.9" stroke="#17562f"/><line x1="180.25" y1="234.9" x2="180.25" y2="238.5" stroke="#1f3f2a"/><line x1="181.00" y1="238.5" x2="181.00" y2="241.3" stroke="#661616"/><line x1="181.75" y1="241.3" x2="181.75" y2="244.8" stroke="#402020"/><line x1="182.50" y1="243.3" x2="182.50" y2="244.8" stroke="#17562f"/><line x1="183.25" y1="243.3" x2="183.25" y2="247.8" stroke="#661616"/><line x1="184.00" y1="246.8" x2="184.00" y2="248.0" stroke="#17562f"/><line x1="184.75" y1="247.1" x2="184.75" y2="253.3" stroke="#1b6436"/><line x1="185.50" y1="253.3" x2="185.50" y2="262.8" stroke="#851f1f"/><line x1="186.25" y1="262.8" x2="186.25" y2="274.2" stroke="#851f1f"/><line x1="187.00" y1="268.8" x2="187.00" y2="274.2" stroke="#1f3f2a"/><line x1="187.75" y1="264.3" x2="187.75" y2="268.8" stroke="#17562f"/><line x1="188.50" y1="264.3" x2="188.50" y2="265.5" stroke="#851f1f"/><line x1="189.25" y1="263.6" x2="189.25" y2="265.4" stroke="#661616"/><line x1="190.00" y1="263.6" x2="190.00" y2="265.0" stroke="#7a1919"/><line x1="190.75" y1="265.0" x2="190.75" y2="269.6" stroke="#7a1919"/><line x1="191.50" y1="269.6" x2="191.50" y2="271.6" stroke="#661616"/><line x1="192.25" y1="269.8" x2="192.25" y2="271.6" stroke="#17562f"/><line x1="193.00" y1="269.8" x2="193.00" y2="274.8" stroke="#851f1f"/><line x1="193.75" y1="274.5" x2="193.75" y2="275.7" stroke="#661616"/><line x1="194.50" y1="275.3" x2="194.50" y2="278.7" stroke="#661616"/><line x1="195.25" y1="278.7" x2="195.25" y2="282.4" stroke="#206b3b"/><line x1="196.00" y1="282.4" x2="196.00" y2="287.8" stroke="#7a1919"/><line x1="196.75" y1="287.8" x2="196.75" y2="290.2" stroke="#402020"/><line x1="197.50" y1="289.5" x2="197.50" y2="290.7" stroke="#402020"/><line x1="198.25" y1="290.0" x2="198.25" y2="291.5" stroke="#661616"/><line x1="199.00" y1="290.5" x2="199.00" y2="291.7" stroke="#7a1919"/><line x1="199.75" y1="288.6" x2="199.75" y2="290.6" stroke="#206b3b"/><line x1="200.50" y1="286.6" x2="200.50" y2="288.6" stroke="#1f3f2a"/><line x1="201.25" y1="280.8" x2="201.25" y2="286.6" stroke="#1b6436"/><line x1="202.00" y1="274.6" x2="202.00" y2="280.8" stroke="#851f1f"/><line x1="202.75" y1="273.8" x2="202.75" y2="275.0" stroke="#851f1f"/><line x1="203.50" y1="273.1" x2="203.50" y2="274.3" stroke="#17562f"/><line x1="204.25" y1="271.9" x2="204.25" y2="273.1" stroke="#851f1f"/><line x1="205.00" y1="269.1" x2="205.00" y2="272.0" stroke="#206b3b"/><line x1="205.75" y1="268.2" x2="205.75" y2="269.4" stroke="#1f3f2a"/><line x1="206.50" y1="265.4" x2="206.50" y2="268.5" stroke="#1f3f2a"/><line x1="207.25" y1="265.2" x2="207.25" y2="266.4" stroke="#17562f"/><line x1="208.00" y1="266.1" x2="208.00" y2="268.4" stroke="#402020"/><line x1="208.75" y1="268.4" x2="208.75" y2="274.1" stroke="#7a1919"/><line x1="209.50" y1="273.5" x2="209.50" y2="274.7" stroke="#402020"/><line x1="210.25" y1="271.0" x2="210.25" y2="274.1" stroke="#1f3f2a"/><line x1="211.00" y1="265.5" x2="211.00" y2="271.0" stroke="#1b6436"/><line x1="211.75" y1="264.3" x2="211.75" y2="265.5" stroke="#1b6436"/><line x1="212.50" y1="262.5" x2="212.50" y2="264.3" stroke="#206b3b"/><line x1="213.25" y1="261.1" x2="213.25" y2="262.5" stroke="#7a1919"/><line x1="214.00" y1="259.2" x2="214.00" y2="261.1" stroke="#17562f"/><line x1="214.75" y1="259.2" x2="214.75" y2="260.7" stroke="#661616"/><line x1="215.50" y1="257.9" x2="215.50" y2="260.7" stroke="#1f3f2a"/><line x1="216.25" y1="257.9" x2="216.25" y2="260.0" stroke="#17562f"/><line x1="217.00" y1="260.0" x2="217.00" y2="263.9" stroke="#7a1919"/><line x1="217.75" y1="263.9" x2="217.75" y2="267.4" stroke="#17562f"/><line x1="218.50" y1="267.4" x2="218.50" y2="269.9" stroke="#1b6436"/><line x1="219.25" y1="269.8" x2="219.25" y2="271.0" stroke="#851f1f"/><line x1="220.00" y1="265.2" x2="220.00" y2="270.9" stroke="#1f3f2a"/><line x1="220.75" y1="261.3" x2="220.75" y2="265.2" stroke="#7a1919"/><line x1="221.50" y1="261.3" x2="221.50" y2="262.8" stroke="#1b6436"/><line x1="222.25" y1="261.7" x2="222.25" y2="262.9" stroke="#206b3b"/><line x1="223.00" y1="257.1" x2="223.00" y2="261.7" stroke="#206b3b"/><line x1="223.75" y1="257.1" x2="223.75" y2="260.2" stroke="#851f1f"/><line x1="224.50" y1="258.0" x2="224.50" y2="260.2" stroke="#1b6436"/><line x1="225.25" y1="256.0" x2="225.25" y2="258.0" stroke="#1b6436"/><line x1="226.00" y1="255.6" x2="226.00" y2="256.8" stroke="#851f1f"/><line x1="226.75" y1="255.8" x2="226.75" y2="257.0" stroke="#402020"/><line x1="227.50" y1="255.8" x2="227.50" y2="257.0" stroke="#206b3b"/><line x1="228.25" y1="255.9" x2="228.25" y2="257.1" stroke="#661616"/><line x1="229.00" y1="256.2" x2="229.00" y2="257.4" stroke="#1b6436"/><line x1="229.75" y1="257.0" x2="229.75" y2="258.3" stroke="#7a1919"/><line x1="230.50" y1="258.3" x2="230.50" y2="262.3" stroke="#402020"/><line x1="231.25" y1="262.3" x2="231.25" y2="271.5" stroke="#661616"/><line x1="232.00" y1="271.0" x2="232.00" y2="272.2" stroke="#7a1919"/><line x1="232.75" y1="265.3" x2="232.75" y2="271.7" stroke="#206b3b"/><line x1="233.50" y1="260.9" x2="233.50" y2="265.3" stroke="#17562f"/><line x1="234.25" y1="260.9" x2="234.25" y2="266.2" stroke="#851f1f"/><line x1="235.00" y1="266.2" x2="235.00" y2="276.1" stroke="#17562f"/><line x1="235.75" y1="276.1" x2="235.75" y2="287.3" stroke="#661616"/><line x1="236.50" y1="285.1" x2="236.50" y2="287.3" stroke="#1b6436"/><line x1="237.25" y1="284.5" x2="237.25" y2="285.7" stroke="#661616"/><line x1="238.00" y1="285.1" x2="238.00" y2="289.2" stroke="#7a1919"/><line x1="238.75" y1="288.2" x2="238.75" y2="289.4" stroke="#402020"/><line x1="239.50" y1="288.5" x2="239.50" y2="292.3" stroke="#661616"/><line x1="240.25" y1="291.7" x2="240.25" y2="292.9" stroke="#402020"/><line x1="241.00" y1="292.4" x2="241.00" y2="297.1" stroke="#661616"/><line x1="241.75" y1="297.1" x2="241.75" y2="300.0" stroke="#7a1919"/><line x1="242.50" y1="300.0" x2="242.50" y2="304.1" stroke="#661616"/><line x1="243.25" y1="303.4" x2="243.25" y2="304.6" stroke="#1f3f2a"/><line x1="244.00" y1="303.9" x2="244.00" y2="307.7" stroke="#851f1f"/><line x1="244.75" y1="307.7" x2="244.75" y2="311.4" stroke="#7a1919"/><line x1="245.50" y1="311.0" x2="245.50" y2="312.2" stroke="#661616"/><line x1="246.25" y1="311.7" x2="246.25" y2="315.8" stroke="#402020"/><line x1="247.00" y1="315.8" x2="247.00" y2="318.8" stroke="#402020"/><line x1="247.75" y1="318.8" x2="247.75" y2="323.0" stroke="#7a1919"/><line x1="248.50" y1="323.0" x2="248.50" y2="326.9" stroke="#402020"/><line x1="249.25" y1="326.9" x2="249.25" y2="329.6" stroke="#851f1f"/><line x1="250.00" y1="329.0" x2="250.00" y2="330.2" stroke="#17562f"/><line x1="250.75" y1="328.0" x2="250.75" y2="329.6" stroke="#7a1919"/><line x1="251.50" y1="328.0" x2="251.50" y2="329.5" stroke="#661616"/><line x1="252.25" y1="329.5" x2="252.25" y2="332.4" stroke="#402020"/><line x1="253.00" y1="332.4" x2="253.00" y2="335.9" stroke="#1f3f2a"/><line x1="253.75" y1="335.9" x2="253.75" y2="340.1" stroke="#851f1f"/><line x1="254.50" y1="340.1" x2="254.50" y2="345.3" stroke="#851f1f"/><line x1="255.25" y1="345.3" x2="255.25" y2="346.6" stroke="#7a1919"/><line x1="256.00" y1="346.6" x2="256.00" y2="350.4" stroke="#7a1919"/><line x1="256.75" y1="347.0" x2="256.75" y2="350.4" stroke="#206b3b"/><line x1="257.50" y1="346.2" x2="257.50" y2="347.4" stroke="#206b3b"/><line x1="258.25" y1="342.6" x2="258.25" y2="346.6" stroke="#1f3f2a"/><line x1="259.00" y1="337.6" x2="259.00" y2="342.6" stroke="#17562f"/><line x1="259.75" y1="334.3" x2="259.75" y2="337.6" stroke="#851f1f"/><line x1="260.50" y1="331.7" x2="260.50" y2="334.3" stroke="#1f3f2a"/><line x1="261.25" y1="331.0" x2="261.25" y2="332.2" stroke="#17562f"/><line x1="262.00" y1="329.4" x2="262.00" y2="331.5" stroke="#1f3f2a"/><line x1="262.75" y1="328.3" x2="262.75" y2="329.5" stroke="#17562f"/><line x1="263.50" y1="328.5" x2="263.50" y2="332.0" stroke="#402020"/><line x1="264.25" y1="331.8" x2="264.25" y2="333.0" stroke="#206b3b"/><line x1="265.00" y1="332.7" x2="265.00" y2="335.4" stroke="#851f1f"/><line x1="265.75" y1="335.4" x2="265.75" y2="337.9" stroke="#661616"/><line x1="266.50" y1="337.3" x2="266.50" y2="338.5" stroke="#206b3b"/><line x1="267.25" y1="337.8" x2="267.25" y2="340.6" stroke="#851f1f"/><line x1="268.00" y1="340.6" x2="268.00" y2="342.6" stroke="#851f1f"/><line x1="268.75" y1="342.6" x2="268.75" y2="344.0" stroke="#851f1f"/><line x1="269.50" y1="344.0" x2="269.50" y2="346.6" stroke="#851f1f"/><line x1="270.25" y1="345.9" x2="270.25" y2="347.1" stroke="#7a1919"/><line x1="271.00" y1="345.5" x2="271.00" y2="346.7" stroke="#1f3f2a"/><line x1="271.75" y1="345.0" x2="271.75" y2="346.2" stroke="#1b6436"/><line x1="272.50" y1="344.4" x2="272.50" y2="345.6" stroke="#1b6436"/><line x1="273.25" y1="341.1" x2="273.25" y2="344.7" stroke="#1b6436"/><line x1="274.00" y1="340.6" x2="274.00" y2="341.8" stroke="#1b6436"/><line x1="274.75" y1="340.7" x2="274.75" y2="341.9" stroke="#851f1f"/><line x1="275.50" y1="341.4" x2="275.50" y2="343.8" stroke="#1b6436"/><line x1="276.25" y1="342.7" x2="276.25" y2="343.9" stroke="#1f3f2a"/><line x1="277.00" y1="340.5" x2="277.00" y2="342.7" stroke="#402020"/><line x1="277.75" y1="338.1" x2="277.75" y2="340.5" stroke="#402020"/><line x1="278.50" y1="335.6" x2="278.50" y2="338.1" stroke="#1b6436"/><line x1="279.25" y1="334.2" x2="279.25" y2="335.6" stroke="#1b6436"/><line x1="280.00" y1="334.2" x2="280.00" y2="335.6" stroke="#661616"/><line x1="280.75" y1="335.6" x2="280.75" y2="338.2" stroke="#661616"/><line x1="281.50" y1="338.2" x2="281.50" y2="340.5" stroke="#402020"/><line x1="282.25" y1="340.5" x2="282.25" y2="341.7" stroke="#1b6436"/><line x1="283.00" y1="340.9" x2="283.00" y2="342.1" stroke="#1b6436"/><line x1="283.75" y1="341.3" x2="283.75" y2="343.7" stroke="#402020"/><line x1="284.50" y1="343.7" x2="284.50" y2="345.8" stroke="#402020"/><line x1="285.25" y1="345.7" x2="285.25" y2="346.9" stroke="#661616"/><line x1="286.00" y1="345.9" x2="286.00" y2="347.1" stroke="#206b3b"/><line x1="286.75" y1="345.6" x2="286.75" y2="346.8" stroke="#851f1f"/><line x1="287.50" y1="346.1" x2="287.50" y2="348.7" stroke="#206b3b"/><line x1="288.25" y1="348.7" x2="288.25" y2="358.1" stroke="#402020"/><line x1="289.00" y1="356.2" x2="289.00" y2="358.1" stroke="#1b6436"/><line x1="289.75" y1="352.6" x2="289.75" y2="356.2" stroke="#1b6436"/><line x1="290.50" y1="349.2" x2="290.50" y2="352.6" stroke="#17562f"/><line x1="291.25" y1="344.5" x2="291.25" y2="349.2" stroke="#1f3f2a"/><line x1="292.00" y1="340.1" x2="292.00" y2="344.5" stroke="#17562f"/><line x1="292.75" y1="339.1" x2="292.75" y2="340.3" stroke="#1b6436"/><line x1="293.50" y1="339.3" x2="293.50" y2="342.0" stroke="#7a1919"/><line x1="294.25" y1="342.0" x2="294.25" y2="343.7" stroke="#7a1919"/><line x1="295.00" y1="340.4" x2="295.00" y2="343.7" stroke="#206b3b"/><line x1="295.75" y1="340.1" x2="295.75" y2="341.3" stroke="#661616"/><line x1="296.50" y1="340.9" x2="296.50" y2="344.7" stroke="#661616"/><line x1="297.25" y1="344.7" x2="297.25" y2="346.0" stroke="#851f1f"/><line x1="298.00" y1="346.0" x2="298.00" y2="348.3" stroke="#851f1f"/><line x1="298.75" y1="344.0" x2="298.75" y2="348.3" stroke="#1f3f2a"/><line x1="299.50" y1="341.5" x2="299.50" y2="344.0" stroke="#1b6436"/><line x1="300.25" y1="338.4" x2="300.25" y2="341.5" stroke="#206b3b"/><line x1="301.00" y1="332.5" x2="301.00" y2="338.4" stroke="#1b6436"/><line x1="301.75" y1="326.2" x2="301.75" y2="332.5" stroke="#1b6436"/><line x1="302.50" y1="326.1" x2="302.50" y2="327.3" stroke="#7a1919"/><line x1="303.25" y1="325.6" x2="303.25" y2="327.3" stroke="#1f3f2a"/><line x1="304.00" y1="325.6" x2="304.00" y2="327.6" stroke="#661616"/><line x1="304.75" y1="327.6" x2="304.75" y2="329.8" stroke="#1b6436"/><line x1="305.50" y1="329.8" x2="305.50" y2="333.6" stroke="#402020"/><line x1="306.25" y1="332.5" x2="306.25" y2="333.7" stroke="#206b3b"/><line x1="307.00" y1="332.7" x2="307.00" y2="335.4" stroke="#851f1f"/><line x1="307.75" y1="335.2" x2="307.75" y2="336.4" stroke="#17562f"/><line x1="308.50" y1="336.1" x2="308.50" y2="340.1" stroke="#661616"/><line x1="309.25" y1="340.1" x2="309.25" y2="342.5" stroke="#206b3b"/><line x1="310.00" y1="342.5" x2="310.00" y2="345.0" stroke="#1f3f2a"/><line x1="310.75" y1="345.0" x2="310.75" y2="346.4" stroke="#661616"/><line x1="311.50" y1="346.1" x2="311.50" y2="347.3" stroke="#7a1919"/><line x1="312.25" y1="346.7" x2="312.25" y2="347.9" stroke="#661616"/><line x1="313.00" y1="347.6" x2="313.00" y2="349.3" stroke="#851f1f"/><line x1="313.75" y1="349.3" x2="313.75" y2="351.0" stroke="#402020"/><line x1="314.50" y1="350.9" x2="314.50" y2="352.1" stroke="#661616"/><line x1="315.25" y1="352.1" x2="315.25" y2="355.9" stroke="#851f1f"/><line x1="316.00" y1="355.9" x2="316.00" y2="358.1" stroke="#402020"/><line x1="316.75" y1="357.9" x2="316.75" y2="359.1" stroke="#851f1f"/><line x1="317.50" y1="357.1" x2="317.50" y2="358.9" stroke="#17562f"/><line x1="318.25" y1="356.1" x2="318.25" y2="357.3" stroke="#206b3b"/><line x1="319.00" y1="354.9" x2="319.00" y2="356.4" stroke="#17562f"/><line x1="319.75" y1="354.1" x2="319.75" y2="355.3" stroke="#7a1919"/><line x1="320.50" y1="353.0" x2="320.50" y2="354.5" stroke="#17562f"/><line x1="321.25" y1="349.8" x2="321.25" y2="353.0" stroke="#206b3b"/><line x1="322.00" y1="349.0" x2="322.00" y2="350.2" stroke="#1b6436"/><line x1="322.75" y1="349.5" x2="322.75" y2="353.4" stroke="#402020"/><line x1="323.50" y1="353.4" x2="323.50" y2="355.3" stroke="#206b3b"/><line x1="324.25" y1="355.3" x2="324.25" y2="358.8" stroke="#206b3b"/><line x1="325.00" y1="358.8" x2="325.00" y2="362.7" stroke="#7a1919"/><line x1="325.75" y1="362.1" x2="325.75" y2="363.3" stroke="#206b3b"/><line x1="326.50" y1="361.7" x2="326.50" y2="362.9" stroke="#206b3b"/><line x1="327.25" y1="359.8" x2="327.25" y2="362.0" stroke="#17562f"/><line x1="328.00" y1="355.1" x2="328.00" y2="359.8" stroke="#1b6436"/><line x1="328.75" y1="353.9" x2="328.75" y2="355.1" stroke="#661616"/><line x1="329.50" y1="351.7" x2="329.50" y2="353.9" stroke="#17562f"/><line x1="330.25" y1="350.6" x2="330.25" y2="351.8" stroke="#1b6436"/><line x1="331.00" y1="347.2" x2="331.00" y2="350.8" stroke="#1b6436"/><line x1="331.75" y1="344.4" x2="331.75" y2="347.2" stroke="#17562f"/><line x1="332.50" y1="344.4" x2="332.50" y2="345.6" stroke="#1b6436"/><line x1="333.25" y1="345.6" x2="333.25" y2="349.7" stroke="#7a1919"/><line x1="334.00" y1="349.4" x2="334.00" y2="350.6" stroke="#661616"/><line x1="334.75" y1="350.2" x2="334.75" y2="353.3" stroke="#851f1f"/><line x1="335.50" y1="353.3" x2="335.50" y2="354.9" stroke="#851f1f"/><line x1="336.25" y1="354.4" x2="336.25" y2="355.6" stroke="#661616"/><line x1="337.00" y1="354.6" x2="337.00" y2="355.8" stroke="#17562f"/><line x1="337.75" y1="354.3" x2="337.75" y2="355.5" stroke="#1b6436"/><line x1="338.50" y1="353.6" x2="338.50" y2="354.8" stroke="#851f1f"/><line x1="339.25" y1="352.6" x2="339.25" y2="353.8" stroke="#1b6436"/><line x1="340.00" y1="350.6" x2="340.00" y2="352.6" stroke="#1b6436"/><line x1="340.75" y1="348.6" x2="340.75" y2="350.6" stroke="#851f1f"/><line x1="341.50" y1="346.9" x2="341.50" y2="348.6" stroke="#17562f"/><line x1="342.25" y1="346.9" x2="342.25" y2="348.9" stroke="#7a1919"/><line x1="343.00" y1="348.9" x2="343.00" y2="350.2" stroke="#661616"/><line x1="343.75" y1="350.2" x2="343.75" y2="351.7" stroke="#851f1f"/><line x1="344.50" y1="351.6" x2="344.50" y2="352.8" stroke="#661616"/><line x1="345.25" y1="350.9" x2="345.25" y2="352.7" stroke="#206b3b"/><line x1="346.00" y1="350.0" x2="346.00" y2="351.2" stroke="#206b3b"/><line x1="346.75" y1="349.6" x2="346.75" y2="350.8" stroke="#17562f"/><line x1="347.50" y1="349.9" x2="347.50" y2="351.1" stroke="#402020"/><line x1="348.25" y1="351.0" x2="348.25" y2="353.8" stroke="#661616"/><line x1="349.00" y1="353.7" x2="349.00" y2="354.9" stroke="#851f1f"/><line x1="349.75" y1="354.7" x2="349.75" y2="357.9" stroke="#402020"/><line x1="350.50" y1="357.1" x2="350.50" y2="358.3" stroke="#1f3f2a"/><line x1="351.25" y1="357.2" x2="351.25" y2="358.4" stroke="#402020"/><line x1="352.00" y1="355.7" x2="352.00" y2="358.1" stroke="#206b3b"/><line x1="352.75" y1="355.2" x2="352.75" y2="356.4" stroke="#402020"/><line x1="353.50" y1="353.3" x2="353.50" y2="355.9" stroke="#1f3f2a"/><line x1="354.25" y1="353.0" x2="354.25" y2="354.2" stroke="#402020"/><line x1="355.00" y1="352.7" x2="355.00" y2="353.9" stroke="#402020"/><line x1="355.75" y1="352.2" x2="355.75" y2="353.4" stroke="#17562f"/><line x1="356.50" y1="352.5" x2="356.50" y2="353.7" stroke="#7a1919"/><line x1="357.25" y1="351.0" x2="357.25" y2="353.4" stroke="#206b3b"/><line x1="358.00" y1="351.0" x2="358.00" y2="353.9" stroke="#402020"/><line x1="358.75" y1="353.8" x2="358.75" y2="355.0" stroke="#7a1919"/><line x1="359.50" y1="354.9" x2="359.50" y2="357.0" stroke="#402020"/><line x1="360.25" y1="356.7" x2="360.25" y2="357.9" stroke="#402020"/><line x1="361.00" y1="357.1" x2="361.00" y2="358.3" stroke="#851f1f"/><line x1="361.75" y1="357.9" x2="361.75" y2="359.1" stroke="#851f1f"/><line x1="362.50" y1="359.1" x2="362.50" y2="360.6" stroke="#206b3b"/><line x1="363.25" y1="359.9" x2="363.25" y2="361.1" stroke="#1f3f2a"/><line x1="364.00" y1="359.9" x2="364.00" y2="361.1" stroke="#661616"/><line x1="364.75" y1="360.0" x2="364.75" y2="361.2" stroke="#7a1919"/><line x1="365.50" y1="360.5" x2="365.50" y2="361.7" stroke="#7a1919"/><line x1="366.25" y1="361.7" x2="366.25" y2="362.9" stroke="#1b6436"/><line x1="367.00" y1="361.2" x2="367.00" y2="362.8" stroke="#17562f"/><line x1="367.75" y1="361.2" x2="367.75" y2="362.5" stroke="#1b6436"/><line x1="368.50" y1="361.3" x2="368.50" y2="362.5" stroke="#1f3f2a"/><line x1="369.25" y1="361.3" x2="369.25" y2="363.2" stroke="#206b3b"/><line x1="370.00" y1="362.1" x2="370.00" y2="363.3" stroke="#7a1919"/><line x1="370.75" y1="362.2" x2="370.75" y2="365.1" stroke="#402020"/><line x1="371.50" y1="364.0" x2="371.50" y2="365.2" stroke="#1b6436"/><line x1="372.25" y1="364.1" x2="372.25" y2="366.5" stroke="#17562f"/><line x1="373.00" y1="366.4" x2="373.00" y2="367.6" stroke="#851f1f"/><line x1="373.75" y1="367.3" x2="373.75" y2="368.5" stroke="#402020"/><line x1="374.50" y1="365.2" x2="374.50" y2="368.3" stroke="#1f3f2a"/><line x1="375.25" y1="361.0" x2="375.25" y2="365.2" stroke="#402020"/><line x1="376.00" y1="360.0" x2="376.00" y2="361.2" stroke="#1b6436"/><line x1="376.75" y1="359.5" x2="376.75" y2="360.7" stroke="#1b6436"/><line x1="377.50" y1="359.3" x2="377.50" y2="360.5" stroke="#1f3f2a"/><line x1="378.25" y1="358.6" x2="378.25" y2="359.8" stroke="#206b3b"/><line x1="379.00" y1="358.6" x2="379.00" y2="359.8" stroke="#661616"/><line x1="379.75" y1="357.9" x2="379.75" y2="359.6" stroke="#206b3b"/><line x1="380.50" y1="356.0" x2="380.50" y2="357.9" stroke="#17562f"/><line x1="381.25" y1="354.6" x2="381.25" y2="356.0" stroke="#17562f"/><line x1="382.00" y1="354.2" x2="382.00" y2="355.4" stroke="#851f1f"/><line x1="382.75" y1="352.1" x2="382.75" y2="355.0" stroke="#7a1919"/><line x1="383.50" y1="350.3" x2="383.50" y2="352.1" stroke="#1f3f2a"/><line x1="384.25" y1="346.3" x2="384.25" y2="350.3" stroke="#7a1919"/><line x1="385.00" y1="344.5" x2="385.00" y2="346.3" stroke="#1b6436"/><line x1="385.75" y1="335.3" x2="385.75" y2="344.5" stroke="#17562f"/><line x1="386.50" y1="333.5" x2="386.50" y2="335.3" stroke="#402020"/><line x1="387.25" y1="333.5" x2="387.25" y2="335.1" stroke="#661616"/><line x1="388.00" y1="334.7" x2="388.00" y2="335.9" stroke="#851f1f"/><line x1="388.75" y1="332.7" x2="388.75" y2="335.5" stroke="#1f3f2a"/><line x1="389.50" y1="328.6" x2="389.50" y2="332.7" stroke="#661616"/><line x1="390.25" y1="328.5" x2="390.25" y2="329.7" stroke="#17562f"/><line x1="391.00" y1="329.6" x2="391.00" y2="331.5" stroke="#661616"/></g>

    <!-- thick channel -->
    <line x1="179.8" y1="232.8" x2="576" y2="398" stroke="#050506" stroke-width="4.05"/>
    <line x1="143" y1="267.5" x2="485" y2="487.5" stroke="#131722" stroke-width="4.0"/>

    <!-- green target zone -->
    <rect x="400.2" y="444.8" width="147.2" height="22.1" fill="#4caf50" fill-opacity="0.42"/>
    <!-- arrow -->
    <g stroke="#0a0a0c" stroke-width="1.7" fill="none" stroke-linecap="round">
      <line x1="395" y1="325" x2="432.8" y2="443.5"/>
      <path d="M421.5 437.5 L432.8 443.5 L438.8 432.3"/>
    </g>
  </g>

  <!-- callouts -->
  <g id="callouts" font-size="13" font-weight="bold" fill="#111111">
    <g>
      <circle cx="199.3" cy="230.8" r="1.9" fill="#0c0c0c"/>
      <rect x="208.5" y="195" width="72.8" height="21.8" rx="3.2" fill="#ffffff" stroke="#0c0c0c" stroke-width="2.1"/>
      <path d="M213.7 216.8 L201.3 229 L203 230.3 L219 216.8 Z" fill="#ffffff" stroke="#0c0c0c" stroke-width="1.5" stroke-linejoin="round"/>
      <path d="M215 216.6 L217.6 216.6" stroke="#ffffff" stroke-width="2.6"/>
      <text x="218" y="209.7" textLength="54.3" lengthAdjust="spacingAndGlyphs">64921.86</text>
    </g>
    <g>
      <rect x="404.2" y="289.1" width="72.4" height="21.8" rx="3.2" fill="#ffffff" stroke="#0c0c0c" stroke-width="2.1"/>
      <path d="M409.2 310.9 L397.4 321.2 L399 323 L415.4 310.9 Z" fill="#ffffff" stroke="#0c0c0c" stroke-width="1.5" stroke-linejoin="round"/>
      <path d="M410.6 310.7 L413.8 310.7" stroke="#ffffff" stroke-width="2.6"/>
      <circle cx="395" cy="324.7" r="2.5" fill="#0c0c0c" stroke="#a2a4a8" stroke-width="1"/>
      <text x="413.6" y="303.8" textLength="54.3" lengthAdjust="spacingAndGlyphs">41191.92</text>
    </g>
    <g>
      <circle cx="441.3" cy="445.5" r="1.9" fill="#173d1a"/>
      <rect x="450.5" y="410.3" width="73.2" height="21" rx="3.2" fill="#ffffff" stroke="#0c0c0c" stroke-width="2.1"/>
      <path d="M455.7 431.3 L442.9 442.7 L444.5 444.5 L461.9 431.3 Z" fill="#ffffff" stroke="#0c0c0c" stroke-width="1.5" stroke-linejoin="round"/>
      <path d="M457 431.1 L460.3 431.1" stroke="#ffffff" stroke-width="2.6"/>
      <text x="460.3" y="424.9" textLength="54.3" lengthAdjust="spacingAndGlyphs">10764.29</text>
    </g>
    <g>
      <rect x="465.3" y="430.8" width="64.5" height="21" rx="3.2" fill="#ffffff" stroke="#0c0c0c" stroke-width="2.1"/>
      <path d="M469.2 451.8 L458 462.8 L460 465 L475.6 451.8 Z" fill="#ffffff" stroke="#0c0c0c" stroke-width="1.7" stroke-linejoin="round"/>
      <path d="M470.8 451.6 L473.8 451.6" stroke="#ffffff" stroke-width="2.6"/>
      <circle cx="455.9" cy="466" r="2.5" fill="#0c0c0c" stroke="#a2a4a8" stroke-width="1"/>
      <text x="474" y="445.4" textLength="47.3" lengthAdjust="spacingAndGlyphs">5508.36</text>
    </g>
    <g clip-path="url(#plot)">
      <circle cx="692.8" cy="426.2" r="1.7" fill="#0c0c0c"/>
      <rect x="703.3" y="389.6" width="70" height="21.6" rx="3.2" fill="#ffffff" stroke="#0c0c0c" stroke-width="2.1"/>
      <path d="M708.4 411.2 L694.6 424.2 L695.8 425.4 L713.6 411.2 Z" fill="#ffffff" stroke="#0c0c0c" stroke-width="1.7" stroke-linejoin="round"/>
      <path d="M709.8 411 L712 411" stroke="#ffffff" stroke-width="2.6"/>
      <text x="713" y="404.4" textLength="54.3" lengthAdjust="spacingAndGlyphs">15825.42</text>
    </g>
  </g>

  <!-- price axis -->
  <rect x="749" y="115.2" width="57" height="457" fill="#ffffff"/>
  <line x1="749" y1="114" x2="749" y2="572" stroke="#5f6165" stroke-width="1.25"/>
  <g font-size="11.5" fill="#5c5e64"><line x1="749" y1="131.3" x2="753.5" y2="131.3" stroke="#66686d" stroke-width="1"/><text x="758" y="135.5" textLength="45.0" lengthAdjust="spacingAndGlyphs">90000.00</text><line x1="749" y1="170.9" x2="753.5" y2="170.9" stroke="#66686d" stroke-width="1"/><text x="758" y="175.1" textLength="45.0" lengthAdjust="spacingAndGlyphs">80000.00</text><line x1="749" y1="210.6" x2="753.5" y2="210.6" stroke="#66686d" stroke-width="1"/><text x="758" y="214.8" textLength="45.0" lengthAdjust="spacingAndGlyphs">70000.00</text><line x1="749" y1="250.2" x2="753.5" y2="250.2" stroke="#66686d" stroke-width="1"/><text x="758" y="254.4" textLength="45.0" lengthAdjust="spacingAndGlyphs">60000.00</text><line x1="749" y1="289.9" x2="753.5" y2="289.9" stroke="#66686d" stroke-width="1"/><text x="758" y="294.1" textLength="45.0" lengthAdjust="spacingAndGlyphs">50000.00</text><line x1="749" y1="369.2" x2="753.5" y2="369.2" stroke="#66686d" stroke-width="1"/><text x="758" y="373.4" textLength="45.0" lengthAdjust="spacingAndGlyphs">30000.00</text><line x1="749" y1="408.8" x2="753.5" y2="408.8" stroke="#66686d" stroke-width="1"/><text x="758" y="413.0" textLength="45.0" lengthAdjust="spacingAndGlyphs">20000.00</text><line x1="749" y1="448.5" x2="753.5" y2="448.5" stroke="#66686d" stroke-width="1"/><text x="758" y="452.7" textLength="45.0" lengthAdjust="spacingAndGlyphs">10000.00</text><line x1="749" y1="488.1" x2="753.5" y2="488.1" stroke="#66686d" stroke-width="1"/><text x="758" y="492.3" textLength="21.8" lengthAdjust="spacingAndGlyphs">0.00</text><line x1="749" y1="527.8" x2="753.5" y2="527.8" stroke="#66686d" stroke-width="1"/><text x="758" y="532.0" textLength="50.9" lengthAdjust="spacingAndGlyphs">−10000.00</text><line x1="749" y1="567.4" x2="753.5" y2="567.4" stroke="#66686d" stroke-width="1"/><text x="758" y="571.6" textLength="50.9" lengthAdjust="spacingAndGlyphs">−20000.00</text></g>

  <!-- last price labels -->
  <path d="M699.8 323.8 H746.8 V339.8 H699.8 A2 2 0 0 1 697.8 337.8 V325.8 A2 2 0 0 1 699.8 323.8 Z" fill="#dc4f42"/>
  <text x="702.4" y="335.8" font-size="11" fill="#ffffff" textLength="39.6" lengthAdjust="spacingAndGlyphs" stroke="#ffffff" stroke-width="0.25">BTCUSD</text>
  <rect x="748.3" y="323.8" width="58" height="16" fill="#dc4f42"/>
  <line x1="749" y1="331.6" x2="753" y2="331.6" stroke="#f3b9b3" stroke-width="1"/>
  <text x="758" y="336" font-size="11.6" font-weight="bold" fill="#ffffff" textLength="44.6" lengthAdjust="spacingAndGlyphs">39555.02</text>

  <!-- play button overlay -->
  <circle cx="702.2" cy="405.6" r="24.2" fill="#9aa0ac" opacity="0.16" filter="url(#soft)"/>
  <circle cx="702.2" cy="405" r="23.4" fill="#ffffff" opacity="0.9"/>
  <polygon points="697.6,397.2 697.6,412.3 709.9,404.7" fill="#2f62ff" opacity="0.95"/>
</svg>
</div>
</body>
</html>
